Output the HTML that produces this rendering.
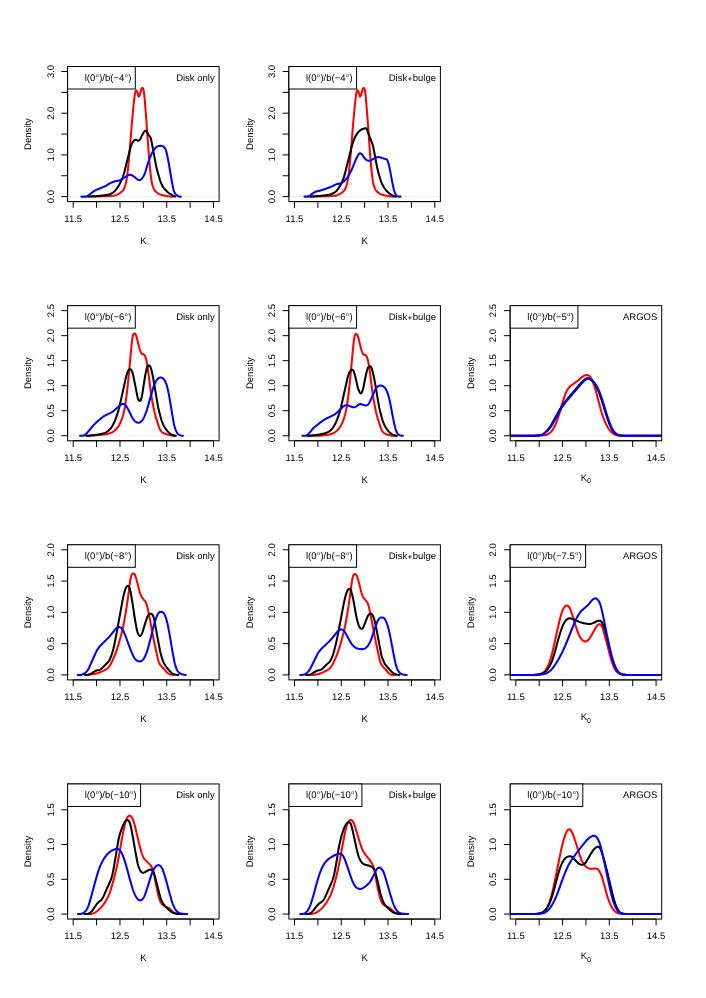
<!DOCTYPE html>
<html><head><meta charset="utf-8"><title>Density</title>
<style>html,body{margin:0;padding:0;background:#fff}svg{display:block;will-change:transform}text{font-family:"Liberation Sans",sans-serif;font-size:9.5px;fill:#000;text-rendering:geometricPrecision}</style></head>
<body>
<svg width="706" height="998" viewBox="0 0 706 998">
<rect width="706" height="998" fill="#fff"/>
<g>
<clipPath id="c00"><rect x="67.6" y="66.5" width="151.5" height="135.1"/></clipPath>
<line x1="67.6" y1="196.6" x2="219.1" y2="196.6" stroke="#d3d3d3" stroke-width="0.4"/>
<path clip-path="url(#c00)" d="M89.16 196.56 L89.66 196.56 L90.16 196.56 L90.66 196.56 L91.16 196.55 L91.66 196.55 L92.16 196.54 L92.66 196.54 L93.16 196.53 L93.66 196.52 L94.16 196.51 L94.66 196.5 L95.16 196.49 L95.66 196.48 L96.16 196.47 L96.66 196.45 L97.16 196.44 L97.66 196.43 L98.16 196.42 L98.66 196.4 L99.16 196.39 L99.66 196.37 L100.16 196.36 L100.66 196.35 L101.16 196.33 L101.66 196.32 L102.16 196.31 L102.66 196.29 L103.16 196.28 L103.66 196.27 L104.16 196.25 L104.66 196.24 L105.16 196.22 L105.66 196.2 L106.16 196.18 L106.66 196.16 L107.16 196.13 L107.66 196.11 L108.16 196.08 L108.66 196.05 L109.16 196.02 L109.66 195.98 L110.16 195.95 L110.66 195.91 L111.16 195.88 L111.66 195.84 L112.16 195.8 L112.66 195.75 L113.16 195.71 L113.66 195.66 L114.16 195.62 L114.66 195.57 L115.16 195.49 L115.66 195.34 L116.16 195.16 L116.66 194.93 L117.16 194.67 L117.66 194.4 L118.16 194.13 L118.66 193.86 L119.16 193.59 L119.66 193.28 L120.16 192.93 L120.66 192.53 L121.16 192.11 L121.66 191.65 L122.16 191.18 L122.66 190.68 L123.16 190.18 L123.66 189.46 L124.16 188.39 L124.66 187.07 L125.16 185.59 L125.66 183.92 L126.16 181.74 L126.66 179.02 L127.16 175.73 L127.66 171.82 L128.16 167.35 L128.66 162.36 L129.16 156.92 L129.66 151.07 L130.16 144.78 L130.66 138.26 L131.16 131.79 L131.66 125.66 L132.16 119.93 L132.66 114.48 L133.16 109.26 L133.66 104.23 L134.16 99.55 L134.66 95.65 L135.16 92.63 L135.66 90.74 L136.16 90.31 L136.66 90.87 L137.16 91.72 L137.66 93.04 L138.16 95.11 L138.66 96.66 L139.16 96.43 L139.66 95.07 L140.16 93.38 L140.66 91.7 L141.16 89.97 L141.66 88.38 L142.16 87.88 L142.66 88.17 L143.16 88.77 L143.66 90.45 L144.16 93.99 L144.66 99.07 L145.16 105.14 L145.66 111.54 L146.16 118.05 L146.66 124.73 L147.16 131.68 L147.66 138.8 L148.16 145.89 L148.66 152.79 L149.16 159.16 L149.66 164.85 L150.16 169.91 L150.66 174.37 L151.16 178.25 L151.66 181.51 L152.16 184.1 L152.66 186 L153.16 187.25 L153.66 188.37 L154.16 189.39 L154.66 190.28 L155.16 191.01 L155.66 191.54 L156.16 191.94 L156.66 192.35 L157.16 192.75 L157.66 193.13 L158.16 193.5 L158.66 193.82 L159.16 194.11 L159.66 194.33 L160.16 194.49 L160.66 194.63 L161.16 194.78 L161.66 194.92 L162.16 195.06 L162.66 195.19 L163.16 195.32 L163.66 195.45 L164.16 195.56 L164.66 195.67 L165.16 195.77 L165.66 195.85 L166.16 195.94 L166.66 196.02 L167.16 196.1 L167.66 196.18 L168.16 196.26 L168.66 196.34 L169.16 196.41 L169.66 196.49 L170.16 196.56 L170.66 196.6 L171.16 196.6 L171.66 196.6 L172.16 196.6 L172.66 196.6" fill="none" stroke="#ff0000" stroke-width="2.05" stroke-linejoin="round" stroke-linecap="round"/>
<path clip-path="url(#c00)" d="M87.04 196.56 L87.54 196.55 L88.04 196.54 L88.54 196.52 L89.04 196.51 L89.54 196.49 L90.04 196.47 L90.54 196.45 L91.04 196.43 L91.54 196.41 L92.04 196.39 L92.54 196.36 L93.04 196.33 L93.54 196.31 L94.04 196.28 L94.54 196.25 L95.04 196.22 L95.54 196.18 L96.04 196.15 L96.54 196.12 L97.04 196.08 L97.54 196.04 L98.04 195.99 L98.54 195.94 L99.04 195.9 L99.54 195.84 L100.04 195.79 L100.54 195.74 L101.04 195.68 L101.54 195.63 L102.04 195.57 L102.54 195.52 L103.04 195.46 L103.54 195.4 L104.04 195.34 L104.54 195.27 L105.04 195.2 L105.54 195.12 L106.04 195.03 L106.54 194.94 L107.04 194.84 L107.54 194.74 L108.04 194.64 L108.54 194.53 L109.04 194.43 L109.54 194.29 L110.04 194.12 L110.54 193.91 L111.04 193.67 L111.54 193.4 L112.04 193.1 L112.54 192.79 L113.04 192.45 L113.54 192.09 L114.04 191.68 L114.54 191.21 L115.04 190.69 L115.54 190.13 L116.04 189.52 L116.54 188.88 L117.04 188.17 L117.54 187.43 L118.04 186.65 L118.54 185.84 L119.04 185.01 L119.54 184.13 L120.04 183.2 L120.54 182.2 L121.04 181.14 L121.54 180.03 L122.04 178.86 L122.54 177.61 L123.04 176.25 L123.54 174.75 L124.04 173.08 L124.54 171.21 L125.04 169.21 L125.54 167.21 L126.04 165.21 L126.54 163.21 L127.04 161.21 L127.54 159.21 L128.04 157.21 L128.54 155.21 L129.04 153.21 L129.54 151.21 L130.04 149.21 L130.54 147.28 L131.04 145.69 L131.54 144.39 L132.04 143.33 L132.54 142.44 L133.04 141.68 L133.54 141.06 L134.04 140.55 L134.54 140.15 L135.04 139.86 L135.54 139.67 L136.04 139.63 L136.54 139.85 L137.04 140.24 L137.54 140.6 L138.04 140.75 L138.54 140.69 L139.04 140.47 L139.54 140.05 L140.04 139.39 L140.54 138.48 L141.04 137.47 L141.54 136.41 L142.04 135.4 L142.54 134.48 L143.04 133.6 L143.54 132.76 L144.04 131.96 L144.54 131.22 L145.04 130.8 L145.54 130.7 L146.04 130.9 L146.54 131.42 L147.04 132.15 L147.54 132.96 L148.04 133.84 L148.54 134.74 L149.04 135.55 L149.54 136.17 L150.04 136.84 L150.54 137.8 L151.04 139.31 L151.54 141.6 L152.04 144.27 L152.54 146.93 L153.04 149.6 L153.54 152.27 L154.04 154.93 L154.54 157.6 L155.04 160.27 L155.54 162.93 L156.04 165.53 L156.54 167.82 L157.04 169.85 L157.54 171.71 L158.04 173.47 L158.54 175.21 L159.04 176.96 L159.54 178.64 L160.04 180.24 L160.54 181.7 L161.04 182.99 L161.54 184.1 L162.04 185.09 L162.54 186.01 L163.04 186.86 L163.54 187.64 L164.04 188.35 L164.54 188.99 L165.04 189.57 L165.54 190.08 L166.04 190.55 L166.54 191.01 L167.04 191.46 L167.54 191.9 L168.04 192.33 L168.54 192.74 L169.04 193.12 L169.54 193.49 L170.04 193.82 L170.54 194.14 L171.04 194.46 L171.54 194.78 L172.04 195.09 L172.54 195.39 L173.04 195.68 L173.54 195.96 L174.04 196.23 L174.54 196.49 L175.04 196.6" fill="none" stroke="#000000" stroke-width="2.05" stroke-linejoin="round" stroke-linecap="round"/>
<path clip-path="url(#c00)" d="M81.37 196.6 L81.87 196.6 L82.37 196.6 L82.87 196.6 L83.37 196.6 L83.87 196.6 L84.37 196.6 L84.87 196.6 L85.37 196.6 L85.87 196.6 L86.37 196.6 L86.87 196.4 L87.37 196.11 L87.87 195.76 L88.37 195.39 L88.87 195.01 L89.37 194.63 L89.87 194.26 L90.37 193.88 L90.87 193.51 L91.37 193.12 L91.87 192.72 L92.37 192.32 L92.87 191.93 L93.37 191.55 L93.87 191.2 L94.37 190.87 L94.87 190.59 L95.37 190.33 L95.87 190.1 L96.37 189.88 L96.87 189.67 L97.37 189.47 L97.87 189.26 L98.37 189.06 L98.87 188.86 L99.37 188.64 L99.87 188.43 L100.37 188.22 L100.87 188.01 L101.37 187.8 L101.87 187.59 L102.37 187.37 L102.87 187.16 L103.37 186.95 L103.87 186.74 L104.37 186.52 L104.87 186.31 L105.37 186.07 L105.87 185.8 L106.37 185.52 L106.87 185.21 L107.37 184.9 L107.87 184.59 L108.37 184.27 L108.87 183.96 L109.37 183.66 L109.87 183.38 L110.37 183.12 L110.87 182.89 L111.37 182.66 L111.87 182.45 L112.37 182.25 L112.87 182.05 L113.37 181.86 L113.87 181.68 L114.37 181.51 L114.87 181.33 L115.37 181.2 L115.87 181.1 L116.37 181.02 L116.87 180.95 L117.37 180.89 L117.87 180.82 L118.37 180.73 L118.87 180.61 L119.37 180.44 L119.87 180.23 L120.37 179.96 L120.87 179.66 L121.37 179.36 L121.87 179.06 L122.37 178.76 L122.87 178.46 L123.37 178.16 L123.87 177.86 L124.37 177.56 L124.87 177.26 L125.37 176.96 L125.87 176.66 L126.37 176.36 L126.87 176.06 L127.37 175.76 L127.87 175.46 L128.37 175.17 L128.87 174.95 L129.37 174.81 L129.87 174.75 L130.37 174.77 L130.87 174.87 L131.37 175.04 L131.87 175.26 L132.37 175.53 L132.87 175.84 L133.37 176.17 L133.87 176.51 L134.37 176.89 L134.87 177.29 L135.37 177.71 L135.87 178.13 L136.37 178.55 L136.87 178.95 L137.37 179.32 L137.87 179.61 L138.37 179.8 L138.87 179.93 L139.37 179.98 L139.87 179.99 L140.37 179.88 L140.87 179.61 L141.37 179.2 L141.87 178.66 L142.37 178.02 L142.87 177.28 L143.37 176.42 L143.87 175.45 L144.37 174.35 L144.87 173.12 L145.37 171.74 L145.87 170.21 L146.37 168.56 L146.87 166.86 L147.37 165.15 L147.87 163.49 L148.37 161.95 L148.87 160.55 L149.37 159.21 L149.87 157.92 L150.37 156.67 L150.87 155.48 L151.37 154.35 L151.87 153.29 L152.37 152.31 L152.87 151.41 L153.37 150.58 L153.87 149.82 L154.37 149.15 L154.87 148.57 L155.37 148.05 L155.87 147.58 L156.37 147.16 L156.87 146.8 L157.37 146.5 L157.87 146.27 L158.37 146.11 L158.87 145.99 L159.37 145.91 L159.87 145.86 L160.37 145.85 L160.87 145.88 L161.37 145.95 L161.87 146.05 L162.37 146.16 L162.87 146.29 L163.37 146.52 L163.87 146.9 L164.37 147.42 L164.87 148.08 L165.37 148.93 L165.87 150.19 L166.37 151.84 L166.87 153.84 L167.37 156.08 L167.87 158.47 L168.37 161.03 L168.87 163.78 L169.37 166.71 L169.87 169.74 L170.37 172.79 L170.87 175.79 L171.37 178.69 L171.87 181.51 L172.37 184.2 L172.87 186.72 L173.37 189 L173.87 190.8 L174.37 192.15 L174.87 193.13 L175.37 193.84 L175.87 194.44 L176.37 194.98 L176.87 195.42 L177.37 195.76 L177.87 196 L178.37 196.23 L178.87 196.43 L179.37 196.6 L179.87 196.6 L180.37 196.6 L180.87 196.6" fill="none" stroke="#0000ff" stroke-width="2.05" stroke-linejoin="round" stroke-linecap="round"/>
<rect x="67.6" y="66.5" width="151.5" height="135.1" fill="none" stroke="#000" stroke-width="1"/>
<path d="M73.21 201.6H213.49M73.21 201.6v6.3M96.59 201.6v6.3M119.97 201.6v6.3M143.35 201.6v6.3M166.73 201.6v6.3M190.11 201.6v6.3M213.49 201.6v6.3M67.6 196.6V71.5M67.6 196.6h-6.3M67.6 175.75h-6.3M67.6 154.9h-6.3M67.6 134.05h-6.3M67.6 113.2h-6.3M67.6 92.35h-6.3M67.6 71.5h-6.3" fill="none" stroke="#000" stroke-width="1"/>
<text x="73.21" y="221.8" text-anchor="middle">11.5</text>
<text x="119.97" y="221.8" text-anchor="middle">12.5</text>
<text x="166.73" y="221.8" text-anchor="middle">13.5</text>
<text x="213.49" y="221.8" text-anchor="middle">14.5</text>
<text transform="translate(53.6 196.6) rotate(-90)" text-anchor="middle">0.0</text>
<text transform="translate(53.6 154.9) rotate(-90)" text-anchor="middle">1.0</text>
<text transform="translate(53.6 113.2) rotate(-90)" text-anchor="middle">2.0</text>
<text transform="translate(53.6 71.5) rotate(-90)" text-anchor="middle">3.0</text>
<text x="143.35" y="244" text-anchor="middle">K</text>
<text transform="translate(31.4 134.05) rotate(-90)" text-anchor="middle">Density</text>
<rect x="67.6" y="66.5" width="67.7" height="22.5" fill="#fff" stroke="#000" stroke-width="1"/>
<text x="84.7" y="81">l(0<tspan dy="-4.3" dx="0.5" font-size="5.2px">o</tspan><tspan dy="4.3" dx="0.5">)/b(−4</tspan><tspan dy="-4.3" dx="0.5" font-size="5.2px">o</tspan><tspan dy="4.3" dx="0.5">)</tspan></text>
<text x="214.7" y="80.8" text-anchor="end">Disk only</text>
</g>
<g>
<clipPath id="c01"><rect x="288.9" y="66.5" width="151.5" height="135.1"/></clipPath>
<line x1="288.9" y1="196.6" x2="440.4" y2="196.6" stroke="#d3d3d3" stroke-width="0.4"/>
<path clip-path="url(#c01)" d="M310.46 196.56 L310.96 196.56 L311.46 196.56 L311.96 196.56 L312.46 196.55 L312.96 196.55 L313.46 196.54 L313.96 196.54 L314.46 196.53 L314.96 196.52 L315.46 196.51 L315.96 196.5 L316.46 196.49 L316.96 196.48 L317.46 196.47 L317.96 196.45 L318.46 196.44 L318.96 196.43 L319.46 196.42 L319.96 196.4 L320.46 196.39 L320.96 196.37 L321.46 196.36 L321.96 196.35 L322.46 196.33 L322.96 196.32 L323.46 196.31 L323.96 196.29 L324.46 196.28 L324.96 196.27 L325.46 196.25 L325.96 196.24 L326.46 196.22 L326.96 196.2 L327.46 196.18 L327.96 196.16 L328.46 196.13 L328.96 196.11 L329.46 196.08 L329.96 196.05 L330.46 196.02 L330.96 195.98 L331.46 195.95 L331.96 195.91 L332.46 195.88 L332.96 195.84 L333.46 195.8 L333.96 195.75 L334.46 195.71 L334.96 195.66 L335.46 195.62 L335.96 195.57 L336.46 195.49 L336.96 195.34 L337.46 195.16 L337.96 194.93 L338.46 194.67 L338.96 194.4 L339.46 194.13 L339.96 193.86 L340.46 193.59 L340.96 193.28 L341.46 192.93 L341.96 192.53 L342.46 192.11 L342.96 191.65 L343.46 191.18 L343.96 190.68 L344.46 190.18 L344.96 189.46 L345.46 188.39 L345.96 187.07 L346.46 185.59 L346.96 183.92 L347.46 181.74 L347.96 179.02 L348.46 175.73 L348.96 171.82 L349.46 167.35 L349.96 162.36 L350.46 156.92 L350.96 151.07 L351.46 144.78 L351.96 138.26 L352.46 131.79 L352.96 125.66 L353.46 119.93 L353.96 114.48 L354.46 109.26 L354.96 104.23 L355.46 99.55 L355.96 95.65 L356.46 92.63 L356.96 90.74 L357.46 90.31 L357.96 90.87 L358.46 91.72 L358.96 93.04 L359.46 95.11 L359.96 96.66 L360.46 96.43 L360.96 95.07 L361.46 93.38 L361.96 91.7 L362.46 89.97 L362.96 88.38 L363.46 87.88 L363.96 88.17 L364.46 88.77 L364.96 90.45 L365.46 93.99 L365.96 99.07 L366.46 105.14 L366.96 111.54 L367.46 118.05 L367.96 124.73 L368.46 131.68 L368.96 138.8 L369.46 145.89 L369.96 152.79 L370.46 159.16 L370.96 164.85 L371.46 169.91 L371.96 174.37 L372.46 178.25 L372.96 181.51 L373.46 184.1 L373.96 186 L374.46 187.25 L374.96 188.37 L375.46 189.39 L375.96 190.28 L376.46 191.01 L376.96 191.54 L377.46 191.94 L377.96 192.35 L378.46 192.75 L378.96 193.13 L379.46 193.5 L379.96 193.82 L380.46 194.11 L380.96 194.33 L381.46 194.49 L381.96 194.63 L382.46 194.78 L382.96 194.92 L383.46 195.06 L383.96 195.19 L384.46 195.32 L384.96 195.45 L385.46 195.56 L385.96 195.67 L386.46 195.77 L386.96 195.85 L387.46 195.94 L387.96 196.02 L388.46 196.1 L388.96 196.18 L389.46 196.26 L389.96 196.34 L390.46 196.41 L390.96 196.49 L391.46 196.56 L391.96 196.6 L392.46 196.6 L392.96 196.6 L393.46 196.6 L393.96 196.6" fill="none" stroke="#ff0000" stroke-width="2.05" stroke-linejoin="round" stroke-linecap="round"/>
<path clip-path="url(#c01)" d="M308.04 196.56 L308.54 196.55 L309.04 196.54 L309.54 196.52 L310.04 196.51 L310.54 196.49 L311.04 196.47 L311.54 196.45 L312.04 196.43 L312.54 196.41 L313.04 196.39 L313.54 196.36 L314.04 196.33 L314.54 196.31 L315.04 196.28 L315.54 196.25 L316.04 196.22 L316.54 196.18 L317.04 196.15 L317.54 196.12 L318.04 196.08 L318.54 196.04 L319.04 195.99 L319.54 195.95 L320.04 195.9 L320.54 195.85 L321.04 195.79 L321.54 195.74 L322.04 195.69 L322.54 195.63 L323.04 195.57 L323.54 195.52 L324.04 195.46 L324.54 195.4 L325.04 195.34 L325.54 195.27 L326.04 195.19 L326.54 195.11 L327.04 195.03 L327.54 194.93 L328.04 194.84 L328.54 194.74 L329.04 194.64 L329.54 194.53 L330.04 194.43 L330.54 194.3 L331.04 194.14 L331.54 193.95 L332.04 193.73 L332.54 193.5 L333.04 193.24 L333.54 192.98 L334.04 192.71 L334.54 192.42 L335.04 192.09 L335.54 191.7 L336.04 191.26 L336.54 190.77 L337.04 190.23 L337.54 189.62 L338.04 188.93 L338.54 188.18 L339.04 187.38 L339.54 186.55 L340.04 185.72 L340.54 184.86 L341.04 183.95 L341.54 182.97 L342.04 181.92 L342.54 180.77 L343.04 179.5 L343.54 178.11 L344.04 176.58 L344.54 174.92 L345.04 173.13 L345.54 171.21 L346.04 169.21 L346.54 167.21 L347.04 165.21 L347.54 163.21 L348.04 161.21 L348.54 159.21 L349.04 157.21 L349.54 155.21 L350.04 153.21 L350.54 151.21 L351.04 149.21 L351.54 147.24 L352.04 145.45 L352.54 143.8 L353.04 142.27 L353.54 140.83 L354.04 139.5 L354.54 138.3 L355.04 137.23 L355.54 136.27 L356.04 135.38 L356.54 134.55 L357.04 133.77 L357.54 133.06 L358.04 132.43 L358.54 131.88 L359.04 131.36 L359.54 130.88 L360.04 130.44 L360.54 130.07 L361.04 129.76 L361.54 129.53 L362.04 129.31 L362.54 129.11 L363.04 128.92 L363.54 128.73 L364.04 128.55 L364.54 128.39 L365.04 128.26 L365.54 128.17 L366.04 128.21 L366.54 128.73 L367.04 129.79 L367.54 131.02 L368.04 132.3 L368.54 133.63 L369.04 134.96 L369.54 136.29 L370.04 137.63 L370.54 138.96 L371.04 140.29 L371.54 141.63 L372.04 142.96 L372.54 144.3 L373.04 146.08 L373.54 148.42 L374.04 151.05 L374.54 153.7 L375.04 156.31 L375.54 159.04 L376.04 161.79 L376.54 164.42 L377.04 166.84 L377.54 169.08 L378.04 171.15 L378.54 173.09 L379.04 174.91 L379.54 176.63 L380.04 178.27 L380.54 179.83 L381.04 181.28 L381.54 182.6 L382.04 183.77 L382.54 184.79 L383.04 185.72 L383.54 186.61 L384.04 187.44 L384.54 188.23 L385.04 188.96 L385.54 189.63 L386.04 190.24 L386.54 190.78 L387.04 191.28 L387.54 191.76 L388.04 192.23 L388.54 192.67 L389.04 193.1 L389.54 193.5 L390.04 193.87 L390.54 194.21 L391.04 194.52 L391.54 194.81 L392.04 195.08 L392.54 195.35 L393.04 195.6 L393.54 195.84 L394.04 196.06 L394.54 196.27 L395.04 196.46 L395.54 196.6 L396.04 196.6" fill="none" stroke="#000000" stroke-width="2.05" stroke-linejoin="round" stroke-linecap="round"/>
<path clip-path="url(#c01)" d="M304.5 196.6 L305 196.6 L305.5 196.6 L306 196.6 L306.5 196.6 L307 196.6 L307.5 196.6 L308 196.54 L308.5 196.35 L309 196.12 L309.5 195.83 L310 195.48 L310.5 195.1 L311 194.7 L311.5 194.3 L312 193.93 L312.5 193.59 L313 193.25 L313.5 192.91 L314 192.58 L314.5 192.27 L315 191.98 L315.5 191.74 L316 191.54 L316.5 191.39 L317 191.26 L317.5 191.16 L318 191.07 L318.5 190.98 L319 190.88 L319.5 190.77 L320 190.64 L320.5 190.48 L321 190.32 L321.5 190.17 L322 190.01 L322.5 189.85 L323 189.69 L323.5 189.52 L324 189.36 L324.5 189.19 L325 189.03 L325.5 188.86 L326 188.68 L326.5 188.51 L327 188.33 L327.5 188.14 L328 187.96 L328.5 187.77 L329 187.58 L329.5 187.39 L330 187.2 L330.5 187 L331 186.81 L331.5 186.61 L332 186.39 L332.5 186.16 L333 185.9 L333.5 185.64 L334 185.37 L334.5 185.1 L335 184.84 L335.5 184.6 L336 184.38 L336.5 184.21 L337 184.07 L337.5 183.96 L338 183.87 L338.5 183.79 L339 183.71 L339.5 183.63 L340 183.53 L340.5 183.4 L341 183.23 L341.5 183.03 L342 182.76 L342.5 182.44 L343 182.07 L343.5 181.66 L344 181.2 L344.5 180.71 L345 180.19 L345.5 179.65 L346 179.08 L346.5 178.47 L347 177.83 L347.5 177.14 L348 176.41 L348.5 175.63 L349 174.81 L349.5 173.94 L350 173.03 L350.5 172.08 L351 171.09 L351.5 170.06 L352 168.99 L352.5 167.88 L353 166.73 L353.5 165.49 L354 164.21 L354.5 162.91 L355 161.64 L355.5 160.42 L356 159.27 L356.5 158.19 L357 157.18 L357.5 156.22 L358 155.33 L358.5 154.5 L359 153.88 L359.5 153.49 L360 153.32 L360.5 153.37 L361 153.6 L361.5 153.95 L362 154.44 L362.5 155.05 L363 155.79 L363.5 156.59 L364 157.38 L364.5 158.08 L365 158.65 L365.5 159.14 L366 159.58 L366.5 159.94 L367 160.23 L367.5 160.43 L368 160.57 L368.5 160.67 L369 160.71 L369.5 160.69 L370 160.58 L370.5 160.38 L371 160.14 L371.5 159.87 L372 159.6 L372.5 159.32 L373 159.05 L373.5 158.8 L374 158.56 L374.5 158.32 L375 158.09 L375.5 157.86 L376 157.65 L376.5 157.46 L377 157.3 L377.5 157.17 L378 157.1 L378.5 157.09 L379 157.13 L379.5 157.21 L380 157.32 L380.5 157.46 L381 157.61 L381.5 157.78 L382 157.95 L382.5 158.13 L383 158.31 L383.5 158.49 L384 158.66 L384.5 158.81 L385 158.94 L385.5 159.06 L386 159.2 L386.5 159.36 L387 159.82 L387.5 160.67 L388 161.92 L388.5 163.56 L389 165.51 L389.5 167.71 L390 170.1 L390.5 172.64 L391 175.33 L391.5 178.06 L392 180.75 L392.5 183.3 L393 185.73 L393.5 187.98 L394 190.02 L394.5 191.79 L395 193.16 L395.5 194.15 L396 194.85 L396.5 195.37 L397 195.79 L397.5 196.17 L398 196.48 L398.5 196.6 L399 196.6 L399.5 196.6 L400 196.6 L400.5 196.6" fill="none" stroke="#0000ff" stroke-width="2.05" stroke-linejoin="round" stroke-linecap="round"/>
<rect x="288.9" y="66.5" width="151.5" height="135.1" fill="none" stroke="#000" stroke-width="1"/>
<path d="M294.51 201.6H434.79M294.51 201.6v6.3M317.89 201.6v6.3M341.27 201.6v6.3M364.65 201.6v6.3M388.03 201.6v6.3M411.41 201.6v6.3M434.79 201.6v6.3M288.9 196.6V71.5M288.9 196.6h-6.3M288.9 175.75h-6.3M288.9 154.9h-6.3M288.9 134.05h-6.3M288.9 113.2h-6.3M288.9 92.35h-6.3M288.9 71.5h-6.3" fill="none" stroke="#000" stroke-width="1"/>
<text x="294.51" y="221.8" text-anchor="middle">11.5</text>
<text x="341.27" y="221.8" text-anchor="middle">12.5</text>
<text x="388.03" y="221.8" text-anchor="middle">13.5</text>
<text x="434.79" y="221.8" text-anchor="middle">14.5</text>
<text transform="translate(274.9 196.6) rotate(-90)" text-anchor="middle">0.0</text>
<text transform="translate(274.9 154.9) rotate(-90)" text-anchor="middle">1.0</text>
<text transform="translate(274.9 113.2) rotate(-90)" text-anchor="middle">2.0</text>
<text transform="translate(274.9 71.5) rotate(-90)" text-anchor="middle">3.0</text>
<text x="364.65" y="244" text-anchor="middle">K</text>
<text transform="translate(252.7 134.05) rotate(-90)" text-anchor="middle">Density</text>
<rect x="288.9" y="66.5" width="67.7" height="22.5" fill="#fff" stroke="#000" stroke-width="1"/>
<text x="306" y="81">l(0<tspan dy="-4.3" dx="0.5" font-size="5.2px">o</tspan><tspan dy="4.3" dx="0.5">)/b(−4</tspan><tspan dy="-4.3" dx="0.5" font-size="5.2px">o</tspan><tspan dy="4.3" dx="0.5">)</tspan></text>
<text x="436" y="80.8" text-anchor="end">Disk<tspan dx="0.9" font-size="6.4px" stroke="#000" stroke-width="0.3">+</tspan><tspan dx="0.9">bulge</tspan></text>
</g>
<g>
<clipPath id="c10"><rect x="67.6" y="305.65" width="151.5" height="135.1"/></clipPath>
<line x1="67.6" y1="435.75" x2="219.1" y2="435.75" stroke="#d3d3d3" stroke-width="0.4"/>
<path clip-path="url(#c10)" d="M86.33 435.75 L86.83 435.75 L87.33 435.75 L87.83 435.75 L88.33 435.75 L88.83 435.75 L89.33 435.72 L89.83 435.7 L90.33 435.67 L90.83 435.64 L91.33 435.61 L91.83 435.58 L92.33 435.55 L92.83 435.51 L93.33 435.48 L93.83 435.45 L94.33 435.41 L94.83 435.38 L95.33 435.34 L95.83 435.31 L96.33 435.27 L96.83 435.23 L97.33 435.19 L97.83 435.15 L98.33 435.1 L98.83 435.05 L99.33 435 L99.83 434.95 L100.33 434.89 L100.83 434.83 L101.33 434.77 L101.83 434.71 L102.33 434.65 L102.83 434.59 L103.33 434.52 L103.83 434.46 L104.33 434.39 L104.83 434.32 L105.33 434.26 L105.83 434.19 L106.33 434.12 L106.83 434.04 L107.33 433.94 L107.83 433.82 L108.33 433.68 L108.83 433.54 L109.33 433.38 L109.83 433.21 L110.33 433.03 L110.83 432.84 L111.33 432.64 L111.83 432.44 L112.33 432.21 L112.83 431.92 L113.33 431.58 L113.83 431.2 L114.33 430.79 L114.83 430.35 L115.33 429.89 L115.83 429.42 L116.33 428.93 L116.83 428.38 L117.33 427.76 L117.83 427.07 L118.33 426.33 L118.83 425.55 L119.33 424.72 L119.83 423.84 L120.33 422.81 L120.83 421.63 L121.33 420.33 L121.83 418.94 L122.33 417.5 L122.83 415.95 L123.33 414.15 L123.83 412.1 L124.33 409.83 L124.83 407.33 L125.33 404.44 L125.83 401.16 L126.33 397.47 L126.83 393.37 L127.33 389.03 L127.83 384.47 L128.33 379.66 L128.83 374.58 L129.33 369.26 L129.83 363.83 L130.33 358.4 L130.83 353.08 L131.33 347.93 L131.83 343.01 L132.33 338.61 L132.83 335.82 L133.33 334.34 L133.83 333.57 L134.33 333.28 L134.83 333.4 L135.33 333.79 L135.83 334.76 L136.33 336.11 L136.83 337.76 L137.33 339.7 L137.83 341.82 L138.33 343.97 L138.83 345.97 L139.33 347.81 L139.83 349.51 L140.33 350.99 L140.83 352.2 L141.33 353.07 L141.83 353.7 L142.33 354.16 L142.83 354.34 L143.33 354.34 L143.83 354.45 L144.33 354.89 L144.83 355.68 L145.33 356.78 L145.83 358.24 L146.33 360.17 L146.83 362.63 L147.33 365.58 L147.83 368.81 L148.33 372.3 L148.83 376 L149.33 380.03 L149.83 384.23 L150.33 388.31 L150.83 392.02 L151.33 395.35 L151.83 398.44 L152.33 401.32 L152.83 404.02 L153.33 406.61 L153.83 409.13 L154.33 411.48 L154.83 413.58 L155.33 415.39 L155.83 417.11 L156.33 418.76 L156.83 420.38 L157.33 421.96 L157.83 423.52 L158.33 425.05 L158.83 426.52 L159.33 427.92 L159.83 429.15 L160.33 430.15 L160.83 430.95 L161.33 431.53 L161.83 431.97 L162.33 432.37 L162.83 432.72 L163.33 433.03 L163.83 433.28 L164.33 433.47 L164.83 433.64 L165.33 433.82 L165.83 433.99 L166.33 434.15 L166.83 434.31 L167.33 434.45 L167.83 434.58 L168.33 434.71 L168.83 434.83 L169.33 434.96 L169.83 435.08 L170.33 435.2 L170.83 435.31 L171.33 435.42 L171.83 435.52 L172.33 435.62 L172.83 435.71 L173.33 435.75 L173.83 435.75 L174.33 435.75 L174.83 435.75" fill="none" stroke="#ff0000" stroke-width="2.05" stroke-linejoin="round" stroke-linecap="round"/>
<path clip-path="url(#c10)" d="M86.33 435.75 L86.83 435.75 L87.33 435.75 L87.83 435.75 L88.33 435.72 L88.83 435.68 L89.33 435.63 L89.83 435.59 L90.33 435.54 L90.83 435.49 L91.33 435.44 L91.83 435.38 L92.33 435.33 L92.83 435.27 L93.33 435.21 L93.83 435.15 L94.33 435.09 L94.83 435.03 L95.33 434.97 L95.83 434.9 L96.33 434.84 L96.83 434.77 L97.33 434.7 L97.83 434.62 L98.33 434.54 L98.83 434.44 L99.33 434.35 L99.83 434.25 L100.33 434.14 L100.83 434.03 L101.33 433.92 L101.83 433.8 L102.33 433.68 L102.83 433.56 L103.33 433.44 L103.83 433.29 L104.33 433.11 L104.83 432.89 L105.33 432.65 L105.83 432.38 L106.33 432.09 L106.83 431.78 L107.33 431.47 L107.83 431.14 L108.33 430.76 L108.83 430.33 L109.33 429.85 L109.83 429.32 L110.33 428.75 L110.83 428.14 L111.33 427.49 L111.83 426.75 L112.33 425.92 L112.83 425.03 L113.33 424.07 L113.83 423.06 L114.33 422 L114.83 420.87 L115.33 419.67 L115.83 418.39 L116.33 417.03 L116.83 415.59 L117.33 414.11 L117.83 412.55 L118.33 410.88 L118.83 409.07 L119.33 407.06 L119.83 404.85 L120.33 402.6 L120.83 400.35 L121.33 398.1 L121.83 395.85 L122.33 393.6 L122.83 391.35 L123.33 389.1 L123.83 386.85 L124.33 384.6 L124.83 382.35 L125.33 380.1 L125.83 377.98 L126.33 376.05 L126.83 374.32 L127.33 372.75 L127.83 371.47 L128.33 370.58 L128.83 369.96 L129.33 369.52 L129.83 369.27 L130.33 369.24 L130.83 369.4 L131.33 369.87 L131.83 370.83 L132.33 372.28 L132.83 374.03 L133.33 376.08 L133.83 378.44 L134.33 380.94 L134.83 383.44 L135.33 385.94 L135.83 388.44 L136.33 390.94 L136.83 393.44 L137.33 395.94 L137.83 398.3 L138.33 399.68 L138.83 400.37 L139.33 400.81 L139.83 400.87 L140.33 400.61 L140.83 399.86 L141.33 398.43 L141.83 396.38 L142.33 393.83 L142.83 390.87 L143.33 387.54 L143.83 384.07 L144.33 380.77 L144.83 377.79 L145.33 374.99 L145.83 372.39 L146.33 370.03 L146.83 368.13 L147.33 366.77 L147.83 365.92 L148.33 365.51 L148.83 365.43 L149.33 365.59 L149.83 366.01 L150.33 366.82 L150.83 368.03 L151.33 369.6 L151.83 371.56 L152.33 373.91 L152.83 376.43 L153.33 379.03 L153.83 381.76 L154.33 384.64 L154.83 387.62 L155.33 390.64 L155.83 393.65 L156.33 396.65 L156.83 399.6 L157.33 402.51 L157.83 405.31 L158.33 407.9 L158.83 410.12 L159.33 412.14 L159.83 414.12 L160.33 416.07 L160.83 417.92 L161.33 419.61 L161.83 421.1 L162.33 422.45 L162.83 423.68 L163.33 424.79 L163.83 425.79 L164.33 426.7 L164.83 427.53 L165.33 428.28 L165.83 429 L166.33 429.7 L166.83 430.37 L167.33 431 L167.83 431.58 L168.33 432.11 L168.83 432.57 L169.33 432.98 L169.83 433.35 L170.33 433.7 L170.83 434.02 L171.33 434.32 L171.83 434.59 L172.33 434.83 L172.83 435.03 L173.33 435.21 L173.83 435.37 L174.33 435.51 L174.83 435.64 L175.33 435.73 L175.83 435.75" fill="none" stroke="#000000" stroke-width="2.05" stroke-linejoin="round" stroke-linecap="round"/>
<path clip-path="url(#c10)" d="M79.96 435.75 L80.46 435.75 L80.96 435.75 L81.46 435.75 L81.96 435.75 L82.46 435.75 L82.96 435.75 L83.46 435.73 L83.96 435.5 L84.46 435.2 L84.96 434.82 L85.46 434.38 L85.96 433.93 L86.46 433.45 L86.96 432.95 L87.46 432.43 L87.96 431.88 L88.46 431.31 L88.96 430.72 L89.46 430.11 L89.96 429.5 L90.46 428.89 L90.96 428.28 L91.46 427.69 L91.96 427.11 L92.46 426.54 L92.96 425.98 L93.46 425.43 L93.96 424.88 L94.46 424.35 L94.96 423.82 L95.46 423.31 L95.96 422.81 L96.46 422.33 L96.96 421.86 L97.46 421.4 L97.96 420.96 L98.46 420.53 L98.96 420.11 L99.46 419.69 L99.96 419.28 L100.46 418.88 L100.96 418.48 L101.46 418.07 L101.96 417.68 L102.46 417.29 L102.96 416.92 L103.46 416.56 L103.96 416.22 L104.46 415.9 L104.96 415.61 L105.46 415.34 L105.96 415.08 L106.46 414.84 L106.96 414.6 L107.46 414.37 L107.96 414.13 L108.46 413.88 L108.96 413.63 L109.46 413.37 L109.96 413.12 L110.46 412.88 L110.96 412.63 L111.46 412.37 L111.96 412.09 L112.46 411.77 L112.96 411.42 L113.46 411.02 L113.96 410.61 L114.46 410.18 L114.96 409.75 L115.46 409.31 L115.96 408.86 L116.46 408.42 L116.96 407.98 L117.46 407.55 L117.96 407.12 L118.46 406.69 L118.96 406.26 L119.46 405.84 L119.96 405.42 L120.46 405 L120.96 404.65 L121.46 404.38 L121.96 404.16 L122.46 403.97 L122.96 403.87 L123.46 403.9 L123.96 404.04 L124.46 404.27 L124.96 404.61 L125.46 405.1 L125.96 405.76 L126.46 406.56 L126.96 407.39 L127.46 408.26 L127.96 409.16 L128.46 410.08 L128.96 411.03 L129.46 412.02 L129.96 413.03 L130.46 414.06 L130.96 415.07 L131.46 416.06 L131.96 416.99 L132.46 417.86 L132.96 418.66 L133.46 419.39 L133.96 420.05 L134.46 420.65 L134.96 421.17 L135.46 421.6 L135.96 421.94 L136.46 422.21 L136.96 422.41 L137.46 422.57 L137.96 422.65 L138.46 422.68 L138.96 422.63 L139.46 422.53 L139.96 422.34 L140.46 422.06 L140.96 421.69 L141.46 421.23 L141.96 420.68 L142.46 420.03 L142.96 419.27 L143.46 418.39 L143.96 417.41 L144.46 416.32 L144.96 415.16 L145.46 413.93 L145.96 412.61 L146.46 411.18 L146.96 409.6 L147.46 407.88 L147.96 406.13 L148.46 404.38 L148.96 402.63 L149.46 400.88 L149.96 399.13 L150.46 397.38 L150.96 395.63 L151.46 393.88 L151.96 392.13 L152.46 390.38 L152.96 388.63 L153.46 387.02 L153.96 385.61 L154.46 384.37 L154.96 383.26 L155.46 382.26 L155.96 381.34 L156.46 380.52 L156.96 379.8 L157.46 379.19 L157.96 378.69 L158.46 378.27 L158.96 377.95 L159.46 377.71 L159.96 377.56 L160.46 377.49 L160.96 377.51 L161.46 377.62 L161.96 377.81 L162.46 378.07 L162.96 378.4 L163.46 378.81 L163.96 379.37 L164.46 380.1 L164.96 380.95 L165.46 381.92 L165.96 383.05 L166.46 384.41 L166.96 386.04 L167.46 387.96 L167.96 390.14 L168.46 392.5 L168.96 395.05 L169.46 397.81 L169.96 400.74 L170.46 403.75 L170.96 406.78 L171.46 409.79 L171.96 412.75 L172.46 415.67 L172.96 418.54 L173.46 421.32 L173.96 423.99 L174.46 426.22 L174.96 427.96 L175.46 429.35 L175.96 430.53 L176.46 431.62 L176.96 432.61 L177.46 433.43 L177.96 434.02 L178.46 434.37 L178.96 434.69 L179.46 434.97 L179.96 435.21 L180.46 435.41 L180.96 435.56 L181.46 435.69 L181.96 435.75 L182.46 435.75 L182.96 435.75" fill="none" stroke="#0000ff" stroke-width="2.05" stroke-linejoin="round" stroke-linecap="round"/>
<rect x="67.6" y="305.65" width="151.5" height="135.1" fill="none" stroke="#000" stroke-width="1"/>
<path d="M73.21 440.75H213.49M73.21 440.75v6.3M96.59 440.75v6.3M119.97 440.75v6.3M143.35 440.75v6.3M166.73 440.75v6.3M190.11 440.75v6.3M213.49 440.75v6.3M67.6 435.75V310.65M67.6 435.75h-6.3M67.6 410.73h-6.3M67.6 385.71h-6.3M67.6 360.69h-6.3M67.6 335.67h-6.3M67.6 310.65h-6.3" fill="none" stroke="#000" stroke-width="1"/>
<text x="73.21" y="460.95" text-anchor="middle">11.5</text>
<text x="119.97" y="460.95" text-anchor="middle">12.5</text>
<text x="166.73" y="460.95" text-anchor="middle">13.5</text>
<text x="213.49" y="460.95" text-anchor="middle">14.5</text>
<text transform="translate(53.6 435.75) rotate(-90)" text-anchor="middle">0.0</text>
<text transform="translate(53.6 410.73) rotate(-90)" text-anchor="middle">0.5</text>
<text transform="translate(53.6 385.71) rotate(-90)" text-anchor="middle">1.0</text>
<text transform="translate(53.6 360.69) rotate(-90)" text-anchor="middle">1.5</text>
<text transform="translate(53.6 335.67) rotate(-90)" text-anchor="middle">2.0</text>
<text transform="translate(53.6 310.65) rotate(-90)" text-anchor="middle">2.5</text>
<text x="143.35" y="483.15" text-anchor="middle">K</text>
<text transform="translate(31.4 373.2) rotate(-90)" text-anchor="middle">Density</text>
<rect x="67.6" y="305.65" width="67.7" height="22.5" fill="#fff" stroke="#000" stroke-width="1"/>
<text x="84.7" y="320.15">l(0<tspan dy="-4.3" dx="0.5" font-size="5.2px">o</tspan><tspan dy="4.3" dx="0.5">)/b(−6</tspan><tspan dy="-4.3" dx="0.5" font-size="5.2px">o</tspan><tspan dy="4.3" dx="0.5">)</tspan></text>
<text x="214.7" y="319.95" text-anchor="end">Disk only</text>
</g>
<g>
<clipPath id="c11"><rect x="288.9" y="305.65" width="151.5" height="135.1"/></clipPath>
<line x1="288.9" y1="435.75" x2="440.4" y2="435.75" stroke="#d3d3d3" stroke-width="0.4"/>
<path clip-path="url(#c11)" d="M308.03 435.75 L308.53 435.75 L309.03 435.75 L309.53 435.75 L310.03 435.75 L310.53 435.75 L311.03 435.75 L311.53 435.75 L312.03 435.75 L312.53 435.75 L313.03 435.75 L313.53 435.75 L314.03 435.75 L314.53 435.75 L315.03 435.75 L315.53 435.75 L316.03 435.75 L316.53 435.75 L317.03 435.75 L317.53 435.75 L318.03 435.75 L318.53 435.75 L319.03 435.75 L319.53 435.75 L320.03 435.7 L320.53 435.65 L321.03 435.6 L321.53 435.55 L322.03 435.49 L322.53 435.43 L323.03 435.37 L323.53 435.31 L324.03 435.25 L324.53 435.19 L325.03 435.12 L325.53 435.06 L326.03 434.99 L326.53 434.92 L327.03 434.86 L327.53 434.79 L328.03 434.72 L328.53 434.64 L329.03 434.54 L329.53 434.42 L330.03 434.28 L330.53 434.14 L331.03 433.98 L331.53 433.81 L332.03 433.63 L332.53 433.44 L333.03 433.24 L333.53 433.04 L334.03 432.81 L334.53 432.52 L335.03 432.18 L335.53 431.8 L336.03 431.39 L336.53 430.95 L337.03 430.49 L337.53 430.02 L338.03 429.53 L338.53 428.98 L339.03 428.36 L339.53 427.67 L340.03 426.93 L340.53 426.15 L341.03 425.32 L341.53 424.44 L342.03 423.41 L342.53 422.23 L343.03 420.93 L343.53 419.54 L344.03 418.1 L344.53 416.55 L345.03 414.75 L345.53 412.7 L346.03 410.43 L346.53 407.93 L347.03 405.04 L347.53 401.76 L348.03 398.07 L348.53 393.97 L349.03 389.63 L349.53 385.07 L350.03 380.26 L350.53 375.18 L351.03 369.86 L351.53 364.43 L352.03 359 L352.53 353.68 L353.03 348.53 L353.53 343.61 L354.03 339.21 L354.53 336.42 L355.03 334.94 L355.53 334.17 L356.03 333.88 L356.53 334 L357.03 334.39 L357.53 335.36 L358.03 336.71 L358.53 338.36 L359.03 340.3 L359.53 342.42 L360.03 344.57 L360.53 346.57 L361.03 348.41 L361.53 350.11 L362.03 351.59 L362.53 352.8 L363.03 353.67 L363.53 354.3 L364.03 354.76 L364.53 354.94 L365.03 354.94 L365.53 355.05 L366.03 355.49 L366.53 356.28 L367.03 357.38 L367.53 358.84 L368.03 360.77 L368.53 363.23 L369.03 366.18 L369.53 369.41 L370.03 372.9 L370.53 376.6 L371.03 380.63 L371.53 384.83 L372.03 388.91 L372.53 392.62 L373.03 395.95 L373.53 399.04 L374.03 401.92 L374.53 404.62 L375.03 407.21 L375.53 409.73 L376.03 412.08 L376.53 414.18 L377.03 415.99 L377.53 417.71 L378.03 419.36 L378.53 420.98 L379.03 422.56 L379.53 424.12 L380.03 425.65 L380.53 427.12 L381.03 428.52 L381.53 429.75 L382.03 430.75 L382.53 431.55 L383.03 432.13 L383.53 432.57 L384.03 432.97 L384.53 433.32 L385.03 433.63 L385.53 433.88 L386.03 434.07 L386.53 434.24 L387.03 434.42 L387.53 434.59 L388.03 434.75 L388.53 434.91 L389.03 435.05 L389.53 435.18 L390.03 435.31 L390.53 435.43 L391.03 435.56 L391.53 435.68 L392.03 435.75 L392.53 435.75 L393.03 435.75 L393.53 435.75 L394.03 435.75 L394.53 435.75 L395.03 435.75 L395.53 435.75 L396.03 435.75 L396.53 435.75" fill="none" stroke="#ff0000" stroke-width="2.05" stroke-linejoin="round" stroke-linecap="round"/>
<path clip-path="url(#c11)" d="M307.33 435.75 L307.83 435.75 L308.33 435.75 L308.83 435.75 L309.33 435.72 L309.83 435.68 L310.33 435.64 L310.83 435.59 L311.33 435.54 L311.83 435.5 L312.33 435.44 L312.83 435.39 L313.33 435.33 L313.83 435.28 L314.33 435.22 L314.83 435.16 L315.33 435.1 L315.83 435.03 L316.33 434.97 L316.83 434.91 L317.33 434.84 L317.83 434.77 L318.33 434.69 L318.83 434.61 L319.33 434.52 L319.83 434.43 L320.33 434.33 L320.83 434.23 L321.33 434.12 L321.83 434.01 L322.33 433.9 L322.83 433.78 L323.33 433.67 L323.83 433.55 L324.33 433.44 L324.83 433.31 L325.33 433.15 L325.83 432.98 L326.33 432.78 L326.83 432.57 L327.33 432.34 L327.83 432.09 L328.33 431.83 L328.83 431.56 L329.33 431.29 L329.83 430.96 L330.33 430.56 L330.83 430.1 L331.33 429.59 L331.83 429.02 L332.33 428.41 L332.83 427.76 L333.33 427.06 L333.83 426.27 L334.33 425.4 L334.83 424.47 L335.33 423.48 L335.83 422.45 L336.33 421.35 L336.83 420.18 L337.33 418.93 L337.83 417.6 L338.33 416.2 L338.83 414.73 L339.33 413.21 L339.83 411.59 L340.33 409.84 L340.83 407.92 L341.33 405.79 L341.83 403.54 L342.33 401.29 L342.83 399.04 L343.33 396.79 L343.83 394.54 L344.33 392.29 L344.83 390.04 L345.33 387.79 L345.83 385.54 L346.33 383.29 L346.83 381.04 L347.33 378.87 L347.83 377.01 L348.33 375.41 L348.83 373.99 L349.33 372.71 L349.83 371.67 L350.33 370.86 L350.83 370.25 L351.33 369.83 L351.83 369.66 L352.33 369.69 L352.83 369.89 L353.33 370.42 L353.83 371.51 L354.33 373.08 L354.83 374.89 L355.33 376.85 L355.83 378.92 L356.33 381.13 L356.83 383.38 L357.33 385.55 L357.83 387.51 L358.33 389.14 L358.83 390.51 L359.33 391.69 L359.83 392.59 L360.33 393.13 L360.83 393.38 L361.33 393.19 L361.83 392.43 L362.33 391.19 L362.83 389.63 L363.33 387.72 L363.83 385.42 L364.33 382.9 L364.83 380.31 L365.33 377.83 L365.83 375.51 L366.33 373.29 L366.83 371.23 L367.33 369.41 L367.83 368.11 L368.33 367.27 L368.83 366.68 L369.33 366.31 L369.83 366.16 L370.33 366.25 L370.83 366.67 L371.33 367.52 L371.83 368.8 L372.33 370.43 L372.83 372.36 L373.33 374.57 L373.83 376.87 L374.33 379.28 L374.83 381.84 L375.33 384.64 L375.83 387.6 L376.33 390.62 L376.83 393.65 L377.33 396.65 L377.83 399.59 L378.33 402.51 L378.83 405.31 L379.33 407.9 L379.83 410.12 L380.33 412.14 L380.83 414.12 L381.33 416.07 L381.83 417.92 L382.33 419.61 L382.83 421.1 L383.33 422.45 L383.83 423.68 L384.33 424.79 L384.83 425.79 L385.33 426.7 L385.83 427.53 L386.33 428.28 L386.83 429 L387.33 429.7 L387.83 430.37 L388.33 431 L388.83 431.58 L389.33 432.11 L389.83 432.57 L390.33 432.98 L390.83 433.35 L391.33 433.7 L391.83 434.02 L392.33 434.32 L392.83 434.59 L393.33 434.83 L393.83 435.03 L394.33 435.21 L394.83 435.37 L395.33 435.51 L395.83 435.64 L396.33 435.73 L396.83 435.75" fill="none" stroke="#000000" stroke-width="2.05" stroke-linejoin="round" stroke-linecap="round"/>
<path clip-path="url(#c11)" d="M302.37 435.75 L302.87 435.75 L303.37 435.75 L303.87 435.75 L304.37 435.75 L304.87 435.75 L305.37 435.75 L305.87 435.73 L306.37 435.5 L306.87 435.2 L307.37 434.82 L307.87 434.38 L308.37 433.91 L308.87 433.41 L309.37 432.89 L309.87 432.35 L310.37 431.78 L310.87 431.16 L311.37 430.51 L311.87 429.85 L312.37 429.21 L312.87 428.61 L313.37 428.08 L313.87 427.63 L314.37 427.21 L314.87 426.8 L315.37 426.4 L315.87 426 L316.37 425.61 L316.87 425.23 L317.37 424.84 L317.87 424.45 L318.37 424.07 L318.87 423.68 L319.37 423.3 L319.87 422.91 L320.37 422.53 L320.87 422.15 L321.37 421.77 L321.87 421.4 L322.37 421.03 L322.87 420.67 L323.37 420.32 L323.87 419.98 L324.37 419.66 L324.87 419.35 L325.37 419.05 L325.87 418.78 L326.37 418.52 L326.87 418.28 L327.37 418.05 L327.87 417.83 L328.37 417.61 L328.87 417.39 L329.37 417.16 L329.87 416.92 L330.37 416.68 L330.87 416.42 L331.37 416.17 L331.87 415.91 L332.37 415.65 L332.87 415.38 L333.37 415.1 L333.87 414.81 L334.37 414.52 L334.87 414.2 L335.37 413.84 L335.87 413.46 L336.37 413.06 L336.87 412.64 L337.37 412.2 L337.87 411.76 L338.37 411.31 L338.87 410.84 L339.37 410.33 L339.87 409.8 L340.37 409.25 L340.87 408.7 L341.37 408.17 L341.87 407.67 L342.37 407.21 L342.87 406.78 L343.37 406.4 L343.87 406.06 L344.37 405.77 L344.87 405.53 L345.37 405.35 L345.87 405.23 L346.37 405.19 L346.87 405.23 L347.37 405.33 L347.87 405.44 L348.37 405.58 L348.87 405.73 L349.37 405.91 L349.87 406.11 L350.37 406.32 L350.87 406.53 L351.37 406.74 L351.87 406.92 L352.37 407.07 L352.87 407.17 L353.37 407.22 L353.87 407.24 L354.37 407.21 L354.87 407.1 L355.37 406.92 L355.87 406.7 L356.37 406.42 L356.87 406.03 L357.37 405.57 L357.87 405.14 L358.37 404.8 L358.87 404.52 L359.37 404.29 L359.87 404.13 L360.37 404.06 L360.87 404.12 L361.37 404.25 L361.87 404.39 L362.37 404.54 L362.87 404.7 L363.37 404.85 L363.87 405.02 L364.37 405.19 L364.87 405.36 L365.37 405.52 L365.87 405.59 L366.37 405.47 L366.87 405.24 L367.37 404.93 L367.87 404.59 L368.37 404.19 L368.87 403.64 L369.37 402.85 L369.87 401.78 L370.37 400.66 L370.87 399.53 L371.37 398.41 L371.87 397.28 L372.37 396.16 L372.87 395.03 L373.37 393.91 L373.87 392.78 L374.37 391.66 L374.87 390.53 L375.37 389.41 L375.87 388.45 L376.37 387.73 L376.87 387.19 L377.37 386.78 L377.87 386.44 L378.37 386.14 L378.87 385.89 L379.37 385.72 L379.87 385.6 L380.37 385.56 L380.87 385.57 L381.37 385.65 L381.87 385.77 L382.37 385.96 L382.87 386.19 L383.37 386.48 L383.87 386.83 L384.37 387.23 L384.87 387.78 L385.37 388.49 L385.87 389.32 L386.37 390.25 L386.87 391.28 L387.37 392.48 L387.87 393.87 L388.37 395.48 L388.87 397.32 L389.37 399.34 L389.87 401.53 L390.37 403.9 L390.87 406.43 L391.37 409.1 L391.87 411.82 L392.37 414.52 L392.87 417.11 L393.37 419.57 L393.87 421.94 L394.37 424.21 L394.87 426.38 L395.37 428.37 L395.87 430.07 L396.37 431.47 L396.87 432.53 L397.37 433.3 L397.87 433.91 L398.37 434.38 L398.87 434.73 L399.37 434.97 L399.87 435.2 L400.37 435.41 L400.87 435.6 L401.37 435.75 L401.87 435.75 L402.37 435.75 L402.87 435.75" fill="none" stroke="#0000ff" stroke-width="2.05" stroke-linejoin="round" stroke-linecap="round"/>
<rect x="288.9" y="305.65" width="151.5" height="135.1" fill="none" stroke="#000" stroke-width="1"/>
<path d="M294.51 440.75H434.79M294.51 440.75v6.3M317.89 440.75v6.3M341.27 440.75v6.3M364.65 440.75v6.3M388.03 440.75v6.3M411.41 440.75v6.3M434.79 440.75v6.3M288.9 435.75V310.65M288.9 435.75h-6.3M288.9 410.73h-6.3M288.9 385.71h-6.3M288.9 360.69h-6.3M288.9 335.67h-6.3M288.9 310.65h-6.3" fill="none" stroke="#000" stroke-width="1"/>
<text x="294.51" y="460.95" text-anchor="middle">11.5</text>
<text x="341.27" y="460.95" text-anchor="middle">12.5</text>
<text x="388.03" y="460.95" text-anchor="middle">13.5</text>
<text x="434.79" y="460.95" text-anchor="middle">14.5</text>
<text transform="translate(274.9 435.75) rotate(-90)" text-anchor="middle">0.0</text>
<text transform="translate(274.9 410.73) rotate(-90)" text-anchor="middle">0.5</text>
<text transform="translate(274.9 385.71) rotate(-90)" text-anchor="middle">1.0</text>
<text transform="translate(274.9 360.69) rotate(-90)" text-anchor="middle">1.5</text>
<text transform="translate(274.9 335.67) rotate(-90)" text-anchor="middle">2.0</text>
<text transform="translate(274.9 310.65) rotate(-90)" text-anchor="middle">2.5</text>
<text x="364.65" y="483.15" text-anchor="middle">K</text>
<text transform="translate(252.7 373.2) rotate(-90)" text-anchor="middle">Density</text>
<rect x="288.9" y="305.65" width="67.7" height="22.5" fill="#fff" stroke="#000" stroke-width="1"/>
<text x="306" y="320.15">l(0<tspan dy="-4.3" dx="0.5" font-size="5.2px">o</tspan><tspan dy="4.3" dx="0.5">)/b(−6</tspan><tspan dy="-4.3" dx="0.5" font-size="5.2px">o</tspan><tspan dy="4.3" dx="0.5">)</tspan></text>
<text x="436" y="319.95" text-anchor="end">Disk<tspan dx="0.9" font-size="6.4px" stroke="#000" stroke-width="0.3">+</tspan><tspan dx="0.9">bulge</tspan></text>
</g>
<g>
<clipPath id="c12"><rect x="510.2" y="305.65" width="151.5" height="135.1"/></clipPath>
<line x1="510.2" y1="435.75" x2="661.7" y2="435.75" stroke="#d3d3d3" stroke-width="0.4"/>
<path clip-path="url(#c12)" d="M509.25 435.75 L509.75 435.75 L510.25 435.75 L510.75 435.75 L511.25 435.75 L511.75 435.75 L512.25 435.75 L512.75 435.75 L513.25 435.75 L513.75 435.75 L514.25 435.75 L514.75 435.75 L515.25 435.75 L515.75 435.75 L516.25 435.75 L516.75 435.75 L517.25 435.75 L517.75 435.75 L518.25 435.75 L518.75 435.75 L519.25 435.75 L519.75 435.75 L520.25 435.75 L520.75 435.75 L521.25 435.75 L521.75 435.75 L522.25 435.75 L522.75 435.75 L523.25 435.75 L523.75 435.75 L524.25 435.75 L524.75 435.75 L525.25 435.75 L525.75 435.75 L526.25 435.75 L526.75 435.75 L527.25 435.75 L527.75 435.75 L528.25 435.75 L528.75 435.75 L529.25 435.75 L529.75 435.75 L530.25 435.75 L530.75 435.75 L531.25 435.75 L531.75 435.75 L532.25 435.75 L532.75 435.75 L533.25 435.75 L533.75 435.75 L534.25 435.75 L534.75 435.75 L535.25 435.74 L535.75 435.72 L536.25 435.7 L536.75 435.68 L537.25 435.67 L537.75 435.65 L538.25 435.63 L538.75 435.62 L539.25 435.6 L539.75 435.58 L540.25 435.57 L540.75 435.55 L541.25 435.52 L541.75 435.48 L542.25 435.43 L542.75 435.38 L543.25 435.31 L543.75 435.24 L544.25 435.17 L544.75 435.09 L545.25 435 L545.75 434.91 L546.25 434.82 L546.75 434.68 L547.25 434.48 L547.75 434.24 L548.25 433.95 L548.75 433.63 L549.25 433.28 L549.75 432.9 L550.25 432.51 L550.75 432.07 L551.25 431.57 L551.75 430.99 L552.25 430.33 L552.75 429.61 L553.25 428.83 L553.75 427.98 L554.25 427.06 L554.75 426.07 L555.25 425 L555.75 423.84 L556.25 422.59 L556.75 421.26 L557.25 419.87 L557.75 418.43 L558.25 416.95 L558.75 415.41 L559.25 413.82 L559.75 412.17 L560.25 410.45 L560.75 408.67 L561.25 406.87 L561.75 405.1 L562.25 403.37 L562.75 401.72 L563.25 400.12 L563.75 398.59 L564.25 397.11 L564.75 395.7 L565.25 394.35 L565.75 393.1 L566.25 391.96 L566.75 390.93 L567.25 390.01 L567.75 389.22 L568.25 388.53 L568.75 387.88 L569.25 387.27 L569.75 386.71 L570.25 386.21 L570.75 385.79 L571.25 385.43 L571.75 385.07 L572.25 384.71 L572.75 384.35 L573.25 383.99 L573.75 383.63 L574.25 383.27 L574.75 382.91 L575.25 382.55 L575.75 382.19 L576.25 381.83 L576.75 381.47 L577.25 381.11 L577.75 380.75 L578.25 380.38 L578.75 379.96 L579.25 379.52 L579.75 379.06 L580.25 378.59 L580.75 378.12 L581.25 377.69 L581.75 377.28 L582.25 376.91 L582.75 376.57 L583.25 376.25 L583.75 375.96 L584.25 375.68 L584.75 375.45 L585.25 375.28 L585.75 375.17 L586.25 375.1 L586.75 375.06 L587.25 375.11 L587.75 375.22 L588.25 375.39 L588.75 375.62 L589.25 375.89 L589.75 376.26 L590.25 376.78 L590.75 377.44 L591.25 378.28 L591.75 379.27 L592.25 380.39 L592.75 381.62 L593.25 382.94 L593.75 384.3 L594.25 385.67 L594.75 387.14 L595.25 388.79 L595.75 390.64 L596.25 392.51 L596.75 394.39 L597.25 396.26 L597.75 398.14 L598.25 400.01 L598.75 401.89 L599.25 403.76 L599.75 405.64 L600.25 407.51 L600.75 409.39 L601.25 411.26 L601.75 412.99 L602.25 414.58 L602.75 416.04 L603.25 417.42 L603.75 418.74 L604.25 420.03 L604.75 421.27 L605.25 422.44 L605.75 423.55 L606.25 424.6 L606.75 425.58 L607.25 426.51 L607.75 427.39 L608.25 428.22 L608.75 429 L609.25 429.7 L609.75 430.34 L610.25 430.92 L610.75 431.47 L611.25 431.98 L611.75 432.44 L612.25 432.86 L612.75 433.23 L613.25 433.59 L613.75 433.93 L614.25 434.23 L614.75 434.49 L615.25 434.7 L615.75 434.87 L616.25 435.03 L616.75 435.18 L617.25 435.31 L617.75 435.42 L618.25 435.5 L618.75 435.56 L619.25 435.59 L619.75 435.63 L620.25 435.66 L620.75 435.69 L621.25 435.72 L621.75 435.75 L622.25 435.75 L622.75 435.75 L623.25 435.75 L623.75 435.75 L624.25 435.75 L624.75 435.75 L625.25 435.75 L625.75 435.75 L626.25 435.75 L626.75 435.75 L627.25 435.75 L627.75 435.75 L628.25 435.75 L628.75 435.75 L629.25 435.75 L629.75 435.75 L630.25 435.75 L630.75 435.75 L631.25 435.75 L631.75 435.75 L632.25 435.75 L632.75 435.75 L633.25 435.75 L633.75 435.75 L634.25 435.75 L634.75 435.75 L635.25 435.75 L635.75 435.75 L636.25 435.75 L636.75 435.75 L637.25 435.75 L637.75 435.75 L638.25 435.75 L638.75 435.75 L639.25 435.75 L639.75 435.75 L640.25 435.75 L640.75 435.75 L641.25 435.75 L641.75 435.75 L642.25 435.75 L642.75 435.75 L643.25 435.75 L643.75 435.75 L644.25 435.75 L644.75 435.75 L645.25 435.75 L645.75 435.75 L646.25 435.75 L646.75 435.75 L647.25 435.75 L647.75 435.75 L648.25 435.75 L648.75 435.75 L649.25 435.75 L649.75 435.75 L650.25 435.75 L650.75 435.75 L651.25 435.75 L651.75 435.75 L652.25 435.75 L652.75 435.75 L653.25 435.75 L653.75 435.75 L654.25 435.75 L654.75 435.75 L655.25 435.75 L655.75 435.75 L656.25 435.75 L656.75 435.75 L657.25 435.75 L657.75 435.75 L658.25 435.75 L658.75 435.75 L659.25 435.75 L659.75 435.75 L660.25 435.75 L660.75 435.75 L661.25 435.75 L661.75 435.75 L662.25 435.75" fill="none" stroke="#ff0000" stroke-width="2.05" stroke-linejoin="round" stroke-linecap="round"/>
<path clip-path="url(#c12)" d="M509.25 435.75 L509.75 435.75 L510.25 435.75 L510.75 435.75 L511.25 435.75 L511.75 435.75 L512.25 435.75 L512.75 435.75 L513.25 435.75 L513.75 435.75 L514.25 435.75 L514.75 435.75 L515.25 435.75 L515.75 435.75 L516.25 435.75 L516.75 435.75 L517.25 435.75 L517.75 435.75 L518.25 435.75 L518.75 435.75 L519.25 435.75 L519.75 435.75 L520.25 435.75 L520.75 435.75 L521.25 435.75 L521.75 435.75 L522.25 435.75 L522.75 435.75 L523.25 435.75 L523.75 435.75 L524.25 435.75 L524.75 435.75 L525.25 435.75 L525.75 435.75 L526.25 435.75 L526.75 435.75 L527.25 435.75 L527.75 435.75 L528.25 435.75 L528.75 435.75 L529.25 435.75 L529.75 435.75 L530.25 435.75 L530.75 435.75 L531.25 435.75 L531.75 435.75 L532.25 435.75 L532.75 435.75 L533.25 435.74 L533.75 435.72 L534.25 435.69 L534.75 435.67 L535.25 435.64 L535.75 435.62 L536.25 435.59 L536.75 435.57 L537.25 435.54 L537.75 435.5 L538.25 435.44 L538.75 435.37 L539.25 435.29 L539.75 435.19 L540.25 435.08 L540.75 434.96 L541.25 434.81 L541.75 434.62 L542.25 434.38 L542.75 434.1 L543.25 433.78 L543.75 433.42 L544.25 433.05 L544.75 432.66 L545.25 432.25 L545.75 431.81 L546.25 431.35 L546.75 430.85 L547.25 430.31 L547.75 429.74 L548.25 429.13 L548.75 428.48 L549.25 427.82 L549.75 427.12 L550.25 426.39 L550.75 425.62 L551.25 424.81 L551.75 423.93 L552.25 423.03 L552.75 422.13 L553.25 421.23 L553.75 420.33 L554.25 419.43 L554.75 418.53 L555.25 417.63 L555.75 416.73 L556.25 415.83 L556.75 414.93 L557.25 414.03 L557.75 413.13 L558.25 412.23 L558.75 411.33 L559.25 410.45 L559.75 409.59 L560.25 408.76 L560.75 407.96 L561.25 407.19 L561.75 406.43 L562.25 405.7 L562.75 404.98 L563.25 404.28 L563.75 403.58 L564.25 402.9 L564.75 402.24 L565.25 401.58 L565.75 400.94 L566.25 400.31 L566.75 399.7 L567.25 399.1 L567.75 398.49 L568.25 397.88 L568.75 397.28 L569.25 396.68 L569.75 396.08 L570.25 395.49 L570.75 394.9 L571.25 394.32 L571.75 393.73 L572.25 393.15 L572.75 392.57 L573.25 391.98 L573.75 391.4 L574.25 390.82 L574.75 390.23 L575.25 389.65 L575.75 389.07 L576.25 388.48 L576.75 387.9 L577.25 387.32 L577.75 386.73 L578.25 386.15 L578.75 385.57 L579.25 384.98 L579.75 384.41 L580.25 383.85 L580.75 383.3 L581.25 382.76 L581.75 382.23 L582.25 381.71 L582.75 381.19 L583.25 380.68 L583.75 380.23 L584.25 379.82 L584.75 379.44 L585.25 379.09 L585.75 378.75 L586.25 378.47 L586.75 378.27 L587.25 378.17 L587.75 378.18 L588.25 378.29 L588.75 378.46 L589.25 378.7 L589.75 378.99 L590.25 379.32 L590.75 379.68 L591.25 380.07 L591.75 380.49 L592.25 380.93 L592.75 381.41 L593.25 381.94 L593.75 382.51 L594.25 383.15 L594.75 383.86 L595.25 384.65 L595.75 385.51 L596.25 386.44 L596.75 387.44 L597.25 388.49 L597.75 389.58 L598.25 390.73 L598.75 391.94 L599.25 393.24 L599.75 394.62 L600.25 396.05 L600.75 397.52 L601.25 399.01 L601.75 400.53 L602.25 402.08 L602.75 403.67 L603.25 405.28 L603.75 406.92 L604.25 408.57 L604.75 410.2 L605.25 411.81 L605.75 413.38 L606.25 414.92 L606.75 416.43 L607.25 417.91 L607.75 419.37 L608.25 420.83 L608.75 422.24 L609.25 423.58 L609.75 424.85 L610.25 426.05 L610.75 427.17 L611.25 428.2 L611.75 429.13 L612.25 429.94 L612.75 430.67 L613.25 431.31 L613.75 431.89 L614.25 432.43 L614.75 432.93 L615.25 433.41 L615.75 433.82 L616.25 434.18 L616.75 434.45 L617.25 434.68 L617.75 434.9 L618.25 435.09 L618.75 435.26 L619.25 435.4 L619.75 435.5 L620.25 435.56 L620.75 435.6 L621.25 435.63 L621.75 435.67 L622.25 435.7 L622.75 435.73 L623.25 435.75 L623.75 435.75 L624.25 435.75 L624.75 435.75 L625.25 435.75 L625.75 435.75 L626.25 435.75 L626.75 435.75 L627.25 435.75 L627.75 435.75 L628.25 435.75 L628.75 435.75 L629.25 435.75 L629.75 435.75 L630.25 435.75 L630.75 435.75 L631.25 435.75 L631.75 435.75 L632.25 435.75 L632.75 435.75 L633.25 435.75 L633.75 435.75 L634.25 435.75 L634.75 435.75 L635.25 435.75 L635.75 435.75 L636.25 435.75 L636.75 435.75 L637.25 435.75 L637.75 435.75 L638.25 435.75 L638.75 435.75 L639.25 435.75 L639.75 435.75 L640.25 435.75 L640.75 435.75 L641.25 435.75 L641.75 435.75 L642.25 435.75 L642.75 435.75 L643.25 435.75 L643.75 435.75 L644.25 435.75 L644.75 435.75 L645.25 435.75 L645.75 435.75 L646.25 435.75 L646.75 435.75 L647.25 435.75 L647.75 435.75 L648.25 435.75 L648.75 435.75 L649.25 435.75 L649.75 435.75 L650.25 435.75 L650.75 435.75 L651.25 435.75 L651.75 435.75 L652.25 435.75 L652.75 435.75 L653.25 435.75 L653.75 435.75 L654.25 435.75 L654.75 435.75 L655.25 435.75 L655.75 435.75 L656.25 435.75 L656.75 435.75 L657.25 435.75 L657.75 435.75 L658.25 435.75 L658.75 435.75 L659.25 435.75 L659.75 435.75 L660.25 435.75 L660.75 435.75 L661.25 435.75 L661.75 435.75 L662.25 435.75" fill="none" stroke="#000000" stroke-width="2.05" stroke-linejoin="round" stroke-linecap="round"/>
<path clip-path="url(#c12)" d="M509.25 435.75 L509.75 435.75 L510.25 435.75 L510.75 435.75 L511.25 435.75 L511.75 435.75 L512.25 435.75 L512.75 435.75 L513.25 435.75 L513.75 435.75 L514.25 435.75 L514.75 435.75 L515.25 435.75 L515.75 435.75 L516.25 435.75 L516.75 435.75 L517.25 435.75 L517.75 435.75 L518.25 435.75 L518.75 435.75 L519.25 435.75 L519.75 435.75 L520.25 435.75 L520.75 435.75 L521.25 435.75 L521.75 435.75 L522.25 435.75 L522.75 435.75 L523.25 435.75 L523.75 435.75 L524.25 435.75 L524.75 435.75 L525.25 435.75 L525.75 435.75 L526.25 435.75 L526.75 435.75 L527.25 435.75 L527.75 435.75 L528.25 435.75 L528.75 435.75 L529.25 435.75 L529.75 435.75 L530.25 435.75 L530.75 435.75 L531.25 435.75 L531.75 435.75 L532.25 435.75 L532.75 435.75 L533.25 435.75 L533.75 435.75 L534.25 435.73 L534.75 435.7 L535.25 435.68 L535.75 435.65 L536.25 435.63 L536.75 435.6 L537.25 435.58 L537.75 435.55 L538.25 435.51 L538.75 435.46 L539.25 435.4 L539.75 435.32 L540.25 435.23 L540.75 435.13 L541.25 435.01 L541.75 434.87 L542.25 434.71 L542.75 434.49 L543.25 434.23 L543.75 433.92 L544.25 433.58 L544.75 433.21 L545.25 432.82 L545.75 432.41 L546.25 431.98 L546.75 431.51 L547.25 431.02 L547.75 430.5 L548.25 429.95 L548.75 429.38 L549.25 428.78 L549.75 428.17 L550.25 427.54 L550.75 426.88 L551.25 426.17 L551.75 425.41 L552.25 424.58 L552.75 423.69 L553.25 422.79 L553.75 421.89 L554.25 420.99 L554.75 420.09 L555.25 419.19 L555.75 418.29 L556.25 417.39 L556.75 416.49 L557.25 415.59 L557.75 414.69 L558.25 413.79 L558.75 412.89 L559.25 411.99 L559.75 411.09 L560.25 410.23 L560.75 409.39 L561.25 408.58 L561.75 407.8 L562.25 407.03 L562.75 406.29 L563.25 405.56 L563.75 404.84 L564.25 404.13 L564.75 403.44 L565.25 402.76 L565.75 402.1 L566.25 401.46 L566.75 400.84 L567.25 400.24 L567.75 399.65 L568.25 399.07 L568.75 398.49 L569.25 397.9 L569.75 397.32 L570.25 396.74 L570.75 396.15 L571.25 395.57 L571.75 394.99 L572.25 394.4 L572.75 393.82 L573.25 393.24 L573.75 392.65 L574.25 392.07 L574.75 391.49 L575.25 390.9 L575.75 390.32 L576.25 389.74 L576.75 389.15 L577.25 388.57 L577.75 387.99 L578.25 387.4 L578.75 386.82 L579.25 386.24 L579.75 385.65 L580.25 385.07 L580.75 384.5 L581.25 383.95 L581.75 383.41 L582.25 382.88 L582.75 382.35 L583.25 381.83 L583.75 381.31 L584.25 380.84 L584.75 380.41 L585.25 380.02 L585.75 379.66 L586.25 379.32 L586.75 379 L587.25 378.77 L587.75 378.64 L588.25 378.6 L588.75 378.65 L589.25 378.78 L589.75 378.96 L590.25 379.2 L590.75 379.49 L591.25 379.83 L591.75 380.19 L592.25 380.59 L592.75 381.03 L593.25 381.5 L593.75 382.01 L594.25 382.56 L594.75 383.16 L595.25 383.8 L595.75 384.51 L596.25 385.29 L596.75 386.13 L597.25 387.04 L597.75 388.03 L598.25 389.09 L598.75 390.21 L599.25 391.4 L599.75 392.67 L600.25 394.03 L600.75 395.46 L601.25 396.91 L601.75 398.39 L602.25 399.89 L602.75 401.43 L603.25 403 L603.75 404.61 L604.25 406.24 L604.75 407.88 L605.25 409.52 L605.75 411.15 L606.25 412.73 L606.75 414.29 L607.25 415.8 L607.75 417.3 L608.25 418.77 L608.75 420.22 L609.25 421.66 L609.75 423.03 L610.25 424.33 L610.75 425.56 L611.25 426.71 L611.75 427.79 L612.25 428.76 L612.75 429.62 L613.25 430.38 L613.75 431.05 L614.25 431.66 L614.75 432.21 L615.25 432.73 L615.75 433.22 L616.25 433.66 L616.75 434.04 L617.25 434.35 L617.75 434.59 L618.25 434.81 L618.75 435.01 L619.25 435.19 L619.75 435.34 L620.25 435.46 L620.75 435.54 L621.25 435.59 L621.75 435.63 L622.25 435.67 L622.75 435.7 L623.25 435.74 L623.75 435.75 L624.25 435.75 L624.75 435.75 L625.25 435.75 L625.75 435.75 L626.25 435.75 L626.75 435.75 L627.25 435.75 L627.75 435.75 L628.25 435.75 L628.75 435.75 L629.25 435.75 L629.75 435.75 L630.25 435.75 L630.75 435.75 L631.25 435.75 L631.75 435.75 L632.25 435.75 L632.75 435.75 L633.25 435.75 L633.75 435.75 L634.25 435.75 L634.75 435.75 L635.25 435.75 L635.75 435.75 L636.25 435.75 L636.75 435.75 L637.25 435.75 L637.75 435.75 L638.25 435.75 L638.75 435.75 L639.25 435.75 L639.75 435.75 L640.25 435.75 L640.75 435.75 L641.25 435.75 L641.75 435.75 L642.25 435.75 L642.75 435.75 L643.25 435.75 L643.75 435.75 L644.25 435.75 L644.75 435.75 L645.25 435.75 L645.75 435.75 L646.25 435.75 L646.75 435.75 L647.25 435.75 L647.75 435.75 L648.25 435.75 L648.75 435.75 L649.25 435.75 L649.75 435.75 L650.25 435.75 L650.75 435.75 L651.25 435.75 L651.75 435.75 L652.25 435.75 L652.75 435.75 L653.25 435.75 L653.75 435.75 L654.25 435.75 L654.75 435.75 L655.25 435.75 L655.75 435.75 L656.25 435.75 L656.75 435.75 L657.25 435.75 L657.75 435.75 L658.25 435.75 L658.75 435.75 L659.25 435.75 L659.75 435.75 L660.25 435.75 L660.75 435.75 L661.25 435.75 L661.75 435.75 L662.25 435.75" fill="none" stroke="#0000ff" stroke-width="2.05" stroke-linejoin="round" stroke-linecap="round"/>
<rect x="510.2" y="305.65" width="151.5" height="135.1" fill="none" stroke="#000" stroke-width="1"/>
<path d="M515.81 440.75H656.09M515.81 440.75v6.3M539.19 440.75v6.3M562.57 440.75v6.3M585.95 440.75v6.3M609.33 440.75v6.3M632.71 440.75v6.3M656.09 440.75v6.3M510.2 435.75V310.65M510.2 435.75h-6.3M510.2 410.73h-6.3M510.2 385.71h-6.3M510.2 360.69h-6.3M510.2 335.67h-6.3M510.2 310.65h-6.3" fill="none" stroke="#000" stroke-width="1"/>
<text x="515.81" y="460.95" text-anchor="middle">11.5</text>
<text x="562.57" y="460.95" text-anchor="middle">12.5</text>
<text x="609.33" y="460.95" text-anchor="middle">13.5</text>
<text x="656.09" y="460.95" text-anchor="middle">14.5</text>
<text transform="translate(496.2 435.75) rotate(-90)" text-anchor="middle">0.0</text>
<text transform="translate(496.2 410.73) rotate(-90)" text-anchor="middle">0.5</text>
<text transform="translate(496.2 385.71) rotate(-90)" text-anchor="middle">1.0</text>
<text transform="translate(496.2 360.69) rotate(-90)" text-anchor="middle">1.5</text>
<text transform="translate(496.2 335.67) rotate(-90)" text-anchor="middle">2.0</text>
<text transform="translate(496.2 310.65) rotate(-90)" text-anchor="middle">2.5</text>
<text x="585.95" y="480.85" text-anchor="middle">K<tspan dy="2.6" font-size="7.2px">0</tspan></text>
<text transform="translate(474 373.2) rotate(-90)" text-anchor="middle">Density</text>
<rect x="510.2" y="305.65" width="67.7" height="22.5" fill="#fff" stroke="#000" stroke-width="1"/>
<text x="527.3" y="320.15">l(0<tspan dy="-4.3" dx="0.5" font-size="5.2px">o</tspan><tspan dy="4.3" dx="0.5">)/b(−5</tspan><tspan dy="-4.3" dx="0.5" font-size="5.2px">o</tspan><tspan dy="4.3" dx="0.5">)</tspan></text>
<text x="657.3" y="319.95" text-anchor="end">ARGOS</text>
</g>
<g>
<clipPath id="c20"><rect x="67.6" y="544.8" width="151.5" height="135.1"/></clipPath>
<line x1="67.6" y1="674.9" x2="219.1" y2="674.9" stroke="#d3d3d3" stroke-width="0.4"/>
<path clip-path="url(#c20)" d="M85.62 674.9 L86.12 674.9 L86.62 674.9 L87.12 674.87 L87.62 674.82 L88.12 674.77 L88.62 674.71 L89.12 674.65 L89.62 674.59 L90.12 674.53 L90.62 674.46 L91.12 674.4 L91.62 674.33 L92.12 674.26 L92.62 674.19 L93.12 674.11 L93.62 674.03 L94.12 673.95 L94.62 673.85 L95.12 673.76 L95.62 673.65 L96.12 673.54 L96.62 673.42 L97.12 673.29 L97.62 673.16 L98.12 673 L98.62 672.83 L99.12 672.65 L99.62 672.45 L100.12 672.24 L100.62 672.02 L101.12 671.8 L101.62 671.57 L102.12 671.35 L102.62 671.11 L103.12 670.86 L103.62 670.6 L104.12 670.33 L104.62 670.06 L105.12 669.79 L105.62 669.51 L106.12 669.21 L106.62 668.88 L107.12 668.52 L107.62 668.11 L108.12 667.67 L108.62 667.17 L109.12 666.62 L109.62 665.96 L110.12 665.18 L110.62 664.3 L111.12 663.34 L111.62 662.33 L112.12 661.27 L112.62 660.21 L113.12 659.12 L113.62 658 L114.12 656.85 L114.62 655.65 L115.12 654.41 L115.62 653.12 L116.12 651.77 L116.62 650.35 L117.12 648.85 L117.62 647.28 L118.12 645.65 L118.62 643.98 L119.12 642.28 L119.62 640.55 L120.12 638.78 L120.62 636.94 L121.12 635.03 L121.62 633.04 L122.12 630.97 L122.62 628.82 L123.12 626.57 L123.62 624.18 L124.12 621.62 L124.62 618.9 L125.12 616.05 L125.62 613.08 L126.12 610 L126.62 606.8 L127.12 603.48 L127.62 600.08 L128.12 596.61 L128.62 592.89 L129.12 588.91 L129.62 584.96 L130.12 581.35 L130.62 578.39 L131.12 576.2 L131.62 574.81 L132.12 573.98 L132.62 573.58 L133.12 573.45 L133.62 573.5 L134.12 573.78 L134.62 574.29 L135.12 575.22 L135.62 576.61 L136.12 578.2 L136.62 579.93 L137.12 581.75 L137.62 583.65 L138.12 585.7 L138.62 587.78 L139.12 589.79 L139.62 591.61 L140.12 593.26 L140.62 594.7 L141.12 595.88 L141.62 596.73 L142.12 597.42 L142.62 598.09 L143.12 598.75 L143.62 599.39 L144.12 600.03 L144.62 600.64 L145.12 601.26 L145.62 601.95 L146.12 602.97 L146.62 604.36 L147.12 606.12 L147.62 608.17 L148.12 610.37 L148.62 612.72 L149.12 615.23 L149.62 617.88 L150.12 620.54 L150.62 623.21 L151.12 625.88 L151.62 628.54 L152.12 631.21 L152.62 633.88 L153.12 636.54 L153.62 639.21 L154.12 641.7 L154.62 643.96 L155.12 646.16 L155.62 648.44 L156.12 650.77 L156.62 653.11 L157.12 655.45 L157.62 657.77 L158.12 659.83 L158.62 661.5 L159.12 662.81 L159.62 663.81 L160.12 664.59 L160.62 665.31 L161.12 665.97 L161.62 666.55 L162.12 667.07 L162.62 667.56 L163.12 668.04 L163.62 668.54 L164.12 669.09 L164.62 669.68 L165.12 670.3 L165.62 670.91 L166.12 671.5 L166.62 672.04 L167.12 672.55 L167.62 672.99 L168.12 673.38 L168.62 673.68 L169.12 673.94 L169.62 674.15 L170.12 674.32 L170.62 674.46 L171.12 674.58 L171.62 674.69 L172.12 674.79 L172.62 674.87 L173.12 674.9 L173.62 674.9" fill="none" stroke="#ff0000" stroke-width="2.05" stroke-linejoin="round" stroke-linecap="round"/>
<path clip-path="url(#c20)" d="M84.92 674.9 L85.42 674.9 L85.92 674.9 L86.42 674.9 L86.92 674.9 L87.42 674.85 L87.92 674.77 L88.42 674.67 L88.92 674.54 L89.42 674.38 L89.92 674.18 L90.42 673.94 L90.92 673.67 L91.42 673.37 L91.92 673.07 L92.42 672.76 L92.92 672.45 L93.42 672.14 L93.92 671.85 L94.42 671.56 L94.92 671.29 L95.42 671.02 L95.92 670.76 L96.42 670.52 L96.92 670.37 L97.42 670.31 L97.92 670.27 L98.42 670.21 L98.92 670.09 L99.42 669.88 L99.92 669.64 L100.42 669.36 L100.92 669.03 L101.42 668.64 L101.92 668.18 L102.42 667.68 L102.92 667.18 L103.42 666.68 L103.92 666.18 L104.42 665.68 L104.92 665.18 L105.42 664.68 L105.92 664.18 L106.42 663.68 L106.92 663.18 L107.42 662.68 L107.92 662.18 L108.42 661.68 L108.92 661 L109.42 660.13 L109.92 659.09 L110.42 657.93 L110.92 656.67 L111.42 655.36 L111.92 653.91 L112.42 652.32 L112.92 650.55 L113.42 648.58 L113.92 646.4 L114.42 644.07 L114.92 641.68 L115.42 639.23 L115.92 636.69 L116.42 634.07 L116.92 631.35 L117.42 628.6 L117.92 625.85 L118.42 623.1 L118.92 620.35 L119.42 617.6 L119.92 614.85 L120.42 612.1 L120.92 609.35 L121.42 606.6 L121.92 603.85 L122.42 601.1 L122.92 598.51 L123.42 596.24 L123.92 594.19 L124.42 592.29 L124.92 590.52 L125.42 589.04 L125.92 587.85 L126.42 586.94 L126.92 586.37 L127.42 586.09 L127.92 586.04 L128.42 586.29 L128.92 586.86 L129.42 587.77 L129.92 589.16 L130.42 591.17 L130.92 593.74 L131.42 596.53 L131.92 599.5 L132.42 602.64 L132.92 605.94 L133.42 609.32 L133.92 612.71 L134.42 616.01 L134.92 619.14 L135.42 622.1 L135.92 624.9 L136.42 627.52 L136.92 629.92 L137.42 631.85 L137.92 633.37 L138.42 634.53 L138.92 635.39 L139.42 635.89 L139.92 636.03 L140.42 635.91 L140.92 635.49 L141.42 634.65 L141.92 633.57 L142.42 632.33 L142.92 630.88 L143.42 629.26 L143.92 627.57 L144.42 625.88 L144.92 624.21 L145.42 622.61 L145.92 621.05 L146.42 619.54 L146.92 618.09 L147.42 616.74 L147.92 615.7 L148.42 614.94 L148.92 614.38 L149.42 613.98 L149.92 613.75 L150.42 613.66 L150.92 613.67 L151.42 613.85 L151.92 614.23 L152.42 614.79 L152.92 615.53 L153.42 616.58 L153.92 618.17 L154.42 620.53 L154.92 623.22 L155.42 625.94 L155.92 628.68 L156.42 631.42 L156.92 634.15 L157.42 636.86 L157.92 639.54 L158.42 642.23 L158.92 644.9 L159.42 647.55 L159.92 650.14 L160.42 652.42 L160.92 654.4 L161.42 656.19 L161.92 657.85 L162.42 659.44 L162.92 660.89 L163.42 662.16 L163.92 663.17 L164.42 664 L164.92 664.79 L165.42 665.56 L165.92 666.29 L166.42 666.98 L166.92 667.65 L167.42 668.31 L167.92 668.96 L168.42 669.59 L168.92 670.21 L169.42 670.79 L169.92 671.34 L170.42 671.85 L170.92 672.31 L171.42 672.72 L171.92 673.09 L172.42 673.41 L172.92 673.68 L173.42 673.93 L173.92 674.14 L174.42 674.32 L174.92 674.47 L175.42 674.59 L175.92 674.7 L176.42 674.79 L176.92 674.87 L177.42 674.9 L177.92 674.9 L178.42 674.9" fill="none" stroke="#000000" stroke-width="2.05" stroke-linejoin="round" stroke-linecap="round"/>
<path clip-path="url(#c20)" d="M77.83 674.9 L78.33 674.9 L78.83 674.9 L79.33 674.9 L79.83 674.9 L80.33 674.9 L80.83 674.87 L81.33 674.75 L81.83 674.61 L82.33 674.45 L82.83 674.26 L83.33 674.04 L83.83 673.77 L84.33 673.46 L84.83 673.1 L85.33 672.69 L85.83 672.23 L86.33 671.73 L86.83 671.18 L87.33 670.58 L87.83 669.9 L88.33 669.11 L88.83 668.18 L89.33 667.1 L89.83 665.97 L90.33 664.85 L90.83 663.72 L91.33 662.6 L91.83 661.47 L92.33 660.35 L92.83 659.22 L93.33 658.1 L93.83 656.97 L94.33 655.85 L94.83 654.72 L95.33 653.63 L95.83 652.6 L96.33 651.63 L96.83 650.72 L97.33 649.87 L97.83 649.09 L98.33 648.34 L98.83 647.63 L99.33 646.97 L99.83 646.34 L100.33 645.75 L100.83 645.2 L101.33 644.69 L101.83 644.19 L102.33 643.69 L102.83 643.19 L103.33 642.69 L103.83 642.19 L104.33 641.69 L104.83 641.19 L105.33 640.69 L105.83 640.19 L106.33 639.69 L106.83 639.19 L107.33 638.69 L107.83 638.19 L108.33 637.69 L108.83 637.19 L109.33 636.68 L109.83 636.12 L110.33 635.53 L110.83 634.91 L111.33 634.28 L111.83 633.65 L112.33 633.02 L112.83 632.41 L113.33 631.79 L113.83 631.16 L114.33 630.52 L114.83 629.9 L115.33 629.28 L115.83 628.73 L116.33 628.29 L116.83 627.94 L117.33 627.63 L117.83 627.36 L118.33 627.18 L118.83 627.09 L119.33 627.08 L119.83 627.15 L120.33 627.34 L120.83 627.65 L121.33 628.08 L121.83 628.63 L122.33 629.28 L122.83 630.04 L123.33 630.93 L123.83 631.99 L124.33 633.17 L124.83 634.37 L125.33 635.61 L125.83 636.87 L126.33 638.17 L126.83 639.51 L127.33 640.88 L127.83 642.26 L128.33 643.65 L128.83 645.03 L129.33 646.4 L129.83 647.74 L130.33 649.04 L130.83 650.31 L131.33 651.55 L131.83 652.76 L132.33 653.95 L132.83 655.07 L133.33 656.09 L133.83 657 L134.33 657.8 L134.83 658.52 L135.33 659.14 L135.83 659.67 L136.33 660.12 L136.83 660.49 L137.33 660.79 L137.83 661.03 L138.33 661.2 L138.83 661.33 L139.33 661.39 L139.83 661.41 L140.33 661.37 L140.83 661.24 L141.33 661.02 L141.83 660.73 L142.33 660.35 L142.83 659.87 L143.33 659.26 L143.83 658.53 L144.33 657.69 L144.83 656.73 L145.33 655.67 L145.83 654.53 L146.33 653.29 L146.83 651.92 L147.33 650.42 L147.83 648.76 L148.33 646.96 L148.83 645.13 L149.33 643.27 L149.83 641.38 L150.33 639.46 L150.83 637.52 L151.33 635.55 L151.83 633.53 L152.33 631.5 L152.83 629.48 L153.33 627.49 L153.83 625.56 L154.33 623.75 L154.83 622.06 L155.33 620.47 L155.83 618.96 L156.33 617.51 L156.83 616.16 L157.33 614.99 L157.83 614.02 L158.33 613.24 L158.83 612.67 L159.33 612.26 L159.83 612.01 L160.33 611.86 L160.83 611.8 L161.33 611.82 L161.83 611.91 L162.33 612.1 L162.83 612.38 L163.33 612.77 L163.83 613.3 L164.33 614.08 L164.83 615.11 L165.33 616.33 L165.83 617.71 L166.33 619.25 L166.83 620.98 L167.33 622.97 L167.83 625.26 L168.33 627.76 L168.83 630.37 L169.33 633.09 L169.83 635.92 L170.33 638.87 L170.83 641.9 L171.33 644.94 L171.83 647.94 L172.33 650.83 L172.83 653.6 L173.33 656.27 L173.83 658.82 L174.33 661.27 L174.83 663.45 L175.33 665.35 L175.83 666.97 L176.33 668.33 L176.83 669.51 L177.33 670.52 L177.83 671.34 L178.33 671.95 L178.83 672.41 L179.33 672.84 L179.83 673.23 L180.33 673.56 L180.83 673.81 L181.33 673.99 L181.83 674.17 L182.33 674.34 L182.83 674.49 L183.33 674.61 L183.83 674.71 L184.33 674.79 L184.83 674.86 L185.33 674.9 L185.83 674.9" fill="none" stroke="#0000ff" stroke-width="2.05" stroke-linejoin="round" stroke-linecap="round"/>
<rect x="67.6" y="544.8" width="151.5" height="135.1" fill="none" stroke="#000" stroke-width="1"/>
<path d="M73.21 679.9H213.49M73.21 679.9v6.3M96.59 679.9v6.3M119.97 679.9v6.3M143.35 679.9v6.3M166.73 679.9v6.3M190.11 679.9v6.3M213.49 679.9v6.3M67.6 674.9V549.8M67.6 674.9h-6.3M67.6 643.62h-6.3M67.6 612.35h-6.3M67.6 581.08h-6.3M67.6 549.8h-6.3" fill="none" stroke="#000" stroke-width="1"/>
<text x="73.21" y="700.1" text-anchor="middle">11.5</text>
<text x="119.97" y="700.1" text-anchor="middle">12.5</text>
<text x="166.73" y="700.1" text-anchor="middle">13.5</text>
<text x="213.49" y="700.1" text-anchor="middle">14.5</text>
<text transform="translate(53.6 674.9) rotate(-90)" text-anchor="middle">0.0</text>
<text transform="translate(53.6 643.62) rotate(-90)" text-anchor="middle">0.5</text>
<text transform="translate(53.6 612.35) rotate(-90)" text-anchor="middle">1.0</text>
<text transform="translate(53.6 581.08) rotate(-90)" text-anchor="middle">1.5</text>
<text transform="translate(53.6 549.8) rotate(-90)" text-anchor="middle">2.0</text>
<text x="143.35" y="722.3" text-anchor="middle">K</text>
<text transform="translate(31.4 612.35) rotate(-90)" text-anchor="middle">Density</text>
<rect x="67.6" y="544.8" width="67.7" height="22.5" fill="#fff" stroke="#000" stroke-width="1"/>
<text x="84.7" y="559.3">l(0<tspan dy="-4.3" dx="0.5" font-size="5.2px">o</tspan><tspan dy="4.3" dx="0.5">)/b(−8</tspan><tspan dy="-4.3" dx="0.5" font-size="5.2px">o</tspan><tspan dy="4.3" dx="0.5">)</tspan></text>
<text x="214.7" y="559.1" text-anchor="end">Disk only</text>
</g>
<g>
<clipPath id="c21"><rect x="288.9" y="544.8" width="151.5" height="135.1"/></clipPath>
<line x1="288.9" y1="674.9" x2="440.4" y2="674.9" stroke="#d3d3d3" stroke-width="0.4"/>
<path clip-path="url(#c21)" d="M307.32 674.9 L307.82 674.9 L308.32 674.9 L308.82 674.9 L309.32 674.9 L309.82 674.9 L310.32 674.9 L310.82 674.9 L311.32 674.9 L311.82 674.9 L312.32 674.9 L312.82 674.9 L313.32 674.9 L313.82 674.86 L314.32 674.79 L314.82 674.71 L315.32 674.63 L315.82 674.55 L316.32 674.45 L316.82 674.36 L317.32 674.25 L317.82 674.14 L318.32 674.02 L318.82 673.89 L319.32 673.76 L319.82 673.6 L320.32 673.43 L320.82 673.25 L321.32 673.05 L321.82 672.84 L322.32 672.62 L322.82 672.4 L323.32 672.17 L323.82 671.95 L324.32 671.71 L324.82 671.46 L325.32 671.2 L325.82 670.93 L326.32 670.66 L326.82 670.39 L327.32 670.11 L327.82 669.81 L328.32 669.48 L328.82 669.12 L329.32 668.71 L329.82 668.27 L330.32 667.77 L330.82 667.22 L331.32 666.56 L331.82 665.78 L332.32 664.9 L332.82 663.94 L333.32 662.93 L333.82 661.87 L334.32 660.81 L334.82 659.72 L335.32 658.6 L335.82 657.45 L336.32 656.25 L336.82 655.01 L337.32 653.72 L337.82 652.37 L338.32 650.95 L338.82 649.45 L339.32 647.88 L339.82 646.25 L340.32 644.58 L340.82 642.88 L341.32 641.15 L341.82 639.38 L342.32 637.54 L342.82 635.63 L343.32 633.64 L343.82 631.57 L344.32 629.42 L344.82 627.17 L345.32 624.78 L345.82 622.22 L346.32 619.5 L346.82 616.65 L347.32 613.68 L347.82 610.6 L348.32 607.4 L348.82 604.08 L349.32 600.68 L349.82 597.21 L350.32 593.49 L350.82 589.51 L351.32 585.56 L351.82 581.95 L352.32 578.99 L352.82 576.8 L353.32 575.41 L353.82 574.58 L354.32 574.18 L354.82 574.05 L355.32 574.1 L355.82 574.38 L356.32 574.89 L356.82 575.82 L357.32 577.21 L357.82 578.8 L358.32 580.53 L358.82 582.35 L359.32 584.25 L359.82 586.3 L360.32 588.38 L360.82 590.39 L361.32 592.21 L361.82 593.86 L362.32 595.3 L362.82 596.48 L363.32 597.33 L363.82 598.02 L364.32 598.69 L364.82 599.35 L365.32 599.99 L365.82 600.63 L366.32 601.24 L366.82 601.86 L367.32 602.55 L367.82 603.57 L368.32 604.96 L368.82 606.72 L369.32 608.77 L369.82 610.97 L370.32 613.32 L370.82 615.83 L371.32 618.48 L371.82 621.14 L372.32 623.81 L372.82 626.48 L373.32 629.14 L373.82 631.81 L374.32 634.48 L374.82 637.14 L375.32 639.81 L375.82 642.3 L376.32 644.56 L376.82 646.76 L377.32 649.04 L377.82 651.37 L378.32 653.71 L378.82 656.05 L379.32 658.37 L379.82 660.43 L380.32 662.1 L380.82 663.41 L381.32 664.41 L381.82 665.19 L382.32 665.91 L382.82 666.57 L383.32 667.15 L383.82 667.67 L384.32 668.16 L384.82 668.64 L385.32 669.14 L385.82 669.69 L386.32 670.28 L386.82 670.9 L387.32 671.51 L387.82 672.1 L388.32 672.64 L388.82 673.15 L389.32 673.59 L389.82 673.98 L390.32 674.28 L390.82 674.54 L391.32 674.75 L391.82 674.9 L392.32 674.9 L392.82 674.9 L393.32 674.9 L393.82 674.9 L394.32 674.9 L394.82 674.9 L395.32 674.9" fill="none" stroke="#ff0000" stroke-width="2.05" stroke-linejoin="round" stroke-linecap="round"/>
<path clip-path="url(#c21)" d="M305.92 674.9 L306.42 674.9 L306.92 674.9 L307.42 674.9 L307.92 674.9 L308.42 674.85 L308.92 674.77 L309.42 674.67 L309.92 674.54 L310.42 674.38 L310.92 674.18 L311.42 673.94 L311.92 673.67 L312.42 673.37 L312.92 673.07 L313.42 672.76 L313.92 672.45 L314.42 672.14 L314.92 671.85 L315.42 671.56 L315.92 671.29 L316.42 671.02 L316.92 670.76 L317.42 670.52 L317.92 670.37 L318.42 670.31 L318.92 670.27 L319.42 670.21 L319.92 670.09 L320.42 669.88 L320.92 669.63 L321.42 669.35 L321.92 669.01 L322.42 668.63 L322.92 668.18 L323.42 667.7 L323.92 667.2 L324.42 666.69 L324.92 666.18 L325.42 665.68 L325.92 665.19 L326.42 664.72 L326.92 664.26 L327.42 663.81 L327.92 663.36 L328.42 662.91 L328.92 662.45 L329.42 661.96 L329.92 661.33 L330.42 660.53 L330.92 659.58 L331.42 658.51 L331.92 657.35 L332.42 656.11 L332.92 654.73 L333.42 653.21 L333.92 651.55 L334.42 649.75 L334.92 647.8 L335.42 645.75 L335.92 643.66 L336.42 641.49 L336.92 639.21 L337.42 636.79 L337.92 634.22 L338.42 631.59 L338.92 628.97 L339.42 626.34 L339.92 623.72 L340.42 621.09 L340.92 618.47 L341.42 615.84 L341.92 613.22 L342.42 610.59 L342.92 607.97 L343.42 605.34 L343.92 602.84 L344.42 600.59 L344.92 598.52 L345.42 596.56 L345.92 594.72 L346.42 593.15 L346.92 591.83 L347.42 590.71 L347.92 589.84 L348.42 589.27 L348.92 588.94 L349.42 588.84 L349.92 589.07 L350.42 589.66 L350.92 590.62 L351.42 591.95 L351.92 593.69 L352.42 595.76 L352.92 598 L353.42 600.4 L353.92 602.99 L354.42 605.82 L354.92 608.79 L355.42 611.71 L355.92 614.38 L356.42 616.81 L356.92 619.03 L357.42 621.07 L357.92 622.92 L358.42 624.55 L358.92 625.89 L359.42 626.97 L359.92 627.79 L360.42 628.37 L360.92 628.71 L361.42 628.81 L361.92 628.76 L362.42 628.52 L362.92 627.95 L363.42 626.95 L363.92 625.82 L364.42 624.63 L364.92 623.38 L365.42 622.1 L365.92 620.74 L366.42 619.36 L366.92 618.03 L367.42 616.81 L367.92 615.84 L368.42 615.12 L368.92 614.54 L369.42 614.08 L369.92 613.79 L370.42 613.66 L370.92 613.67 L371.42 613.88 L371.92 614.32 L372.42 614.96 L372.92 615.8 L373.42 616.88 L373.92 618.24 L374.42 619.96 L374.92 622.01 L375.42 624.19 L375.92 626.51 L376.42 628.97 L376.92 631.6 L377.42 634.27 L377.92 636.94 L378.42 639.6 L378.92 642.27 L379.42 644.94 L379.92 647.6 L380.42 650.27 L380.92 652.94 L381.42 655.33 L381.92 657.12 L382.42 658.48 L382.92 659.64 L383.42 660.77 L383.92 661.93 L384.42 663.02 L384.92 663.97 L385.42 664.69 L385.92 665.3 L386.42 665.89 L386.92 666.48 L387.42 667.06 L387.92 667.63 L388.42 668.2 L388.92 668.77 L389.42 669.33 L389.92 669.9 L390.42 670.45 L390.92 671 L391.42 671.54 L391.92 672.02 L392.42 672.44 L392.92 672.8 L393.42 673.11 L393.92 673.39 L394.42 673.64 L394.92 673.87 L395.42 674.09 L395.92 674.28 L396.42 674.45 L396.92 674.6 L397.42 674.72 L397.92 674.82 L398.42 674.9 L398.92 674.9 L399.42 674.9" fill="none" stroke="#000000" stroke-width="2.05" stroke-linejoin="round" stroke-linecap="round"/>
<path clip-path="url(#c21)" d="M300.25 674.9 L300.75 674.9 L301.25 674.9 L301.75 674.9 L302.25 674.9 L302.75 674.83 L303.25 674.7 L303.75 674.55 L304.25 674.37 L304.75 674.17 L305.25 673.94 L305.75 673.66 L306.25 673.34 L306.75 672.97 L307.25 672.54 L307.75 672.04 L308.25 671.49 L308.75 670.87 L309.25 670.19 L309.75 669.44 L310.25 668.62 L310.75 667.72 L311.25 666.74 L311.75 665.76 L312.25 664.76 L312.75 663.76 L313.25 662.75 L313.75 661.72 L314.25 660.68 L314.75 659.62 L315.25 658.56 L315.75 657.5 L316.25 656.46 L316.75 655.44 L317.25 654.48 L317.75 653.59 L318.25 652.77 L318.75 652.02 L319.25 651.34 L319.75 650.73 L320.25 650.14 L320.75 649.58 L321.25 649.03 L321.75 648.51 L322.25 648 L322.75 647.52 L323.25 647.05 L323.75 646.59 L324.25 646.14 L324.75 645.68 L325.25 645.23 L325.75 644.77 L326.25 644.3 L326.75 643.83 L327.25 643.35 L327.75 642.87 L328.25 642.39 L328.75 641.9 L329.25 641.4 L329.75 640.89 L330.25 640.36 L330.75 639.81 L331.25 639.23 L331.75 638.65 L332.25 638.05 L332.75 637.44 L333.25 636.83 L333.75 636.21 L334.25 635.6 L334.75 634.99 L335.25 634.36 L335.75 633.73 L336.25 633.09 L336.75 632.47 L337.25 631.86 L337.75 631.35 L338.25 630.92 L338.75 630.54 L339.25 630.19 L339.75 629.91 L340.25 629.71 L340.75 629.59 L341.25 629.52 L341.75 629.52 L342.25 629.63 L342.75 629.84 L343.25 630.19 L343.75 630.66 L344.25 631.23 L344.75 631.88 L345.25 632.64 L345.75 633.52 L346.25 634.43 L346.75 635.37 L347.25 636.3 L347.75 637.23 L348.25 638.15 L348.75 639.06 L349.25 639.96 L349.75 640.85 L350.25 641.73 L350.75 642.58 L351.25 643.41 L351.75 644.16 L352.25 644.79 L352.75 645.33 L353.25 645.81 L353.75 646.24 L354.25 646.66 L354.75 647.07 L355.25 647.44 L355.75 647.78 L356.25 648.07 L356.75 648.3 L357.25 648.47 L357.75 648.61 L358.25 648.73 L358.75 648.83 L359.25 648.91 L359.75 648.98 L360.25 649.04 L360.75 649.09 L361.25 649.13 L361.75 649.14 L362.25 649.13 L362.75 649.11 L363.25 649.07 L363.75 648.98 L364.25 648.8 L364.75 648.56 L365.25 648.26 L365.75 647.92 L366.25 647.54 L366.75 647.1 L367.25 646.57 L367.75 645.95 L368.25 645.24 L368.75 644.45 L369.25 643.56 L369.75 642.6 L370.25 641.56 L370.75 640.42 L371.25 639.18 L371.75 637.82 L372.25 636.37 L372.75 634.87 L373.25 633.34 L373.75 631.81 L374.25 630.3 L374.75 628.84 L375.25 627.39 L375.75 625.98 L376.25 624.59 L376.75 623.24 L377.25 621.94 L377.75 620.74 L378.25 619.82 L378.75 619.13 L379.25 618.6 L379.75 618.19 L380.25 617.88 L380.75 617.67 L381.25 617.54 L381.75 617.47 L382.25 617.48 L382.75 617.55 L383.25 617.72 L383.75 617.98 L384.25 618.35 L384.75 618.86 L385.25 619.62 L385.75 620.62 L386.25 621.8 L386.75 623.13 L387.25 624.56 L387.75 626.12 L388.25 627.86 L388.75 629.83 L389.25 631.98 L389.75 634.23 L390.25 636.59 L390.75 639.08 L391.25 641.69 L391.75 644.36 L392.25 647.06 L392.75 649.73 L393.25 652.36 L393.75 654.93 L394.25 657.44 L394.75 659.9 L395.25 662.27 L395.75 664.37 L396.25 666.12 L396.75 667.59 L397.25 668.84 L397.75 669.93 L398.25 670.89 L398.75 671.69 L399.25 672.3 L399.75 672.74 L400.25 673.14 L400.75 673.51 L401.25 673.83 L401.75 674.07 L402.25 674.23 L402.75 674.38 L403.25 674.53 L403.75 674.65 L404.25 674.76 L404.75 674.84 L405.25 674.9 L405.75 674.9 L406.25 674.9 L406.75 674.9" fill="none" stroke="#0000ff" stroke-width="2.05" stroke-linejoin="round" stroke-linecap="round"/>
<rect x="288.9" y="544.8" width="151.5" height="135.1" fill="none" stroke="#000" stroke-width="1"/>
<path d="M294.51 679.9H434.79M294.51 679.9v6.3M317.89 679.9v6.3M341.27 679.9v6.3M364.65 679.9v6.3M388.03 679.9v6.3M411.41 679.9v6.3M434.79 679.9v6.3M288.9 674.9V549.8M288.9 674.9h-6.3M288.9 643.62h-6.3M288.9 612.35h-6.3M288.9 581.08h-6.3M288.9 549.8h-6.3" fill="none" stroke="#000" stroke-width="1"/>
<text x="294.51" y="700.1" text-anchor="middle">11.5</text>
<text x="341.27" y="700.1" text-anchor="middle">12.5</text>
<text x="388.03" y="700.1" text-anchor="middle">13.5</text>
<text x="434.79" y="700.1" text-anchor="middle">14.5</text>
<text transform="translate(274.9 674.9) rotate(-90)" text-anchor="middle">0.0</text>
<text transform="translate(274.9 643.62) rotate(-90)" text-anchor="middle">0.5</text>
<text transform="translate(274.9 612.35) rotate(-90)" text-anchor="middle">1.0</text>
<text transform="translate(274.9 581.08) rotate(-90)" text-anchor="middle">1.5</text>
<text transform="translate(274.9 549.8) rotate(-90)" text-anchor="middle">2.0</text>
<text x="364.65" y="722.3" text-anchor="middle">K</text>
<text transform="translate(252.7 612.35) rotate(-90)" text-anchor="middle">Density</text>
<rect x="288.9" y="544.8" width="67.7" height="22.5" fill="#fff" stroke="#000" stroke-width="1"/>
<text x="306" y="559.3">l(0<tspan dy="-4.3" dx="0.5" font-size="5.2px">o</tspan><tspan dy="4.3" dx="0.5">)/b(−8</tspan><tspan dy="-4.3" dx="0.5" font-size="5.2px">o</tspan><tspan dy="4.3" dx="0.5">)</tspan></text>
<text x="436" y="559.1" text-anchor="end">Disk<tspan dx="0.9" font-size="6.4px" stroke="#000" stroke-width="0.3">+</tspan><tspan dx="0.9">bulge</tspan></text>
</g>
<g>
<clipPath id="c22"><rect x="510.2" y="544.8" width="151.5" height="135.1"/></clipPath>
<line x1="510.2" y1="674.9" x2="661.7" y2="674.9" stroke="#d3d3d3" stroke-width="0.4"/>
<path clip-path="url(#c22)" d="M509.25 674.9 L509.75 674.9 L510.25 674.9 L510.75 674.9 L511.25 674.9 L511.75 674.9 L512.25 674.9 L512.75 674.9 L513.25 674.9 L513.75 674.9 L514.25 674.9 L514.75 674.9 L515.25 674.9 L515.75 674.9 L516.25 674.9 L516.75 674.9 L517.25 674.9 L517.75 674.9 L518.25 674.9 L518.75 674.9 L519.25 674.9 L519.75 674.9 L520.25 674.9 L520.75 674.9 L521.25 674.9 L521.75 674.9 L522.25 674.9 L522.75 674.9 L523.25 674.9 L523.75 674.9 L524.25 674.9 L524.75 674.9 L525.25 674.9 L525.75 674.9 L526.25 674.9 L526.75 674.9 L527.25 674.9 L527.75 674.9 L528.25 674.9 L528.75 674.9 L529.25 674.9 L529.75 674.9 L530.25 674.9 L530.75 674.9 L531.25 674.9 L531.75 674.9 L532.25 674.9 L532.75 674.9 L533.25 674.9 L533.75 674.87 L534.25 674.84 L534.75 674.8 L535.25 674.77 L535.75 674.73 L536.25 674.7 L536.75 674.65 L537.25 674.58 L537.75 674.49 L538.25 674.39 L538.75 674.28 L539.25 674.16 L539.75 674.03 L540.25 673.9 L540.75 673.75 L541.25 673.54 L541.75 673.28 L542.25 672.98 L542.75 672.65 L543.25 672.28 L543.75 671.89 L544.25 671.47 L544.75 670.95 L545.25 670.35 L545.75 669.66 L546.25 668.9 L546.75 668.08 L547.25 667.21 L547.75 666.29 L548.25 665.26 L548.75 664.12 L549.25 662.86 L549.75 661.46 L550.25 659.93 L550.75 658.3 L551.25 656.59 L551.75 654.8 L552.25 652.89 L552.75 650.85 L553.25 648.66 L553.75 646.41 L554.25 644.16 L554.75 641.91 L555.25 639.66 L555.75 637.41 L556.25 635.16 L556.75 632.91 L557.25 630.66 L557.75 628.41 L558.25 626.16 L558.75 623.91 L559.25 621.72 L559.75 619.67 L560.25 617.77 L560.75 615.97 L561.25 614.27 L561.75 612.66 L562.25 611.21 L562.75 609.98 L563.25 608.93 L563.75 608.04 L564.25 607.28 L564.75 606.63 L565.25 606.13 L565.75 605.8 L566.25 605.62 L566.75 605.56 L567.25 605.61 L567.75 605.77 L568.25 606.08 L568.75 606.58 L569.25 607.28 L569.75 608.16 L570.25 609.23 L570.75 610.5 L571.25 611.93 L571.75 613.4 L572.25 614.9 L572.75 616.44 L573.25 618.03 L573.75 619.65 L574.25 621.29 L574.75 622.94 L575.25 624.57 L575.75 626.17 L576.25 627.72 L576.75 629.2 L577.25 630.6 L577.75 631.93 L578.25 633.21 L578.75 634.42 L579.25 635.52 L579.75 636.51 L580.25 637.39 L580.75 638.17 L581.25 638.85 L581.75 639.46 L582.25 639.98 L582.75 640.43 L583.25 640.79 L583.75 641.06 L584.25 641.26 L584.75 641.38 L585.25 641.43 L585.75 641.38 L586.25 641.24 L586.75 641.02 L587.25 640.71 L587.75 640.32 L588.25 639.9 L588.75 639.42 L589.25 638.84 L589.75 638.13 L590.25 637.27 L590.75 636.4 L591.25 635.52 L591.75 634.65 L592.25 633.77 L592.75 632.9 L593.25 632.02 L593.75 631.15 L594.25 630.27 L594.75 629.4 L595.25 628.52 L595.75 627.65 L596.25 626.86 L596.75 626.18 L597.25 625.57 L597.75 625.01 L598.25 624.59 L598.75 624.37 L599.25 624.29 L599.75 624.28 L600.25 624.41 L600.75 624.73 L601.25 625.27 L601.75 626.04 L602.25 627.04 L602.75 628.33 L603.25 629.96 L603.75 631.8 L604.25 633.63 L604.75 635.46 L605.25 637.3 L605.75 639.13 L606.25 640.96 L606.75 642.8 L607.25 644.63 L607.75 646.49 L608.25 648.47 L608.75 650.52 L609.25 652.56 L609.75 654.53 L610.25 656.41 L610.75 658.2 L611.25 659.91 L611.75 661.55 L612.25 663.07 L612.75 664.44 L613.25 665.67 L613.75 666.8 L614.25 667.84 L614.75 668.8 L615.25 669.66 L615.75 670.42 L616.25 671.06 L616.75 671.65 L617.25 672.19 L617.75 672.66 L618.25 673.07 L618.75 673.39 L619.25 673.65 L619.75 673.89 L620.25 674.12 L620.75 674.32 L621.25 674.48 L621.75 674.61 L622.25 674.69 L622.75 674.73 L623.25 674.78 L623.75 674.81 L624.25 674.85 L624.75 674.88 L625.25 674.9 L625.75 674.9 L626.25 674.9 L626.75 674.9 L627.25 674.9 L627.75 674.9 L628.25 674.9 L628.75 674.9 L629.25 674.9 L629.75 674.9 L630.25 674.9 L630.75 674.9 L631.25 674.9 L631.75 674.9 L632.25 674.9 L632.75 674.9 L633.25 674.9 L633.75 674.9 L634.25 674.9 L634.75 674.9 L635.25 674.9 L635.75 674.9 L636.25 674.9 L636.75 674.9 L637.25 674.9 L637.75 674.9 L638.25 674.9 L638.75 674.9 L639.25 674.9 L639.75 674.9 L640.25 674.9 L640.75 674.9 L641.25 674.9 L641.75 674.9 L642.25 674.9 L642.75 674.9 L643.25 674.9 L643.75 674.9 L644.25 674.9 L644.75 674.9 L645.25 674.9 L645.75 674.9 L646.25 674.9 L646.75 674.9 L647.25 674.9 L647.75 674.9 L648.25 674.9 L648.75 674.9 L649.25 674.9 L649.75 674.9 L650.25 674.9 L650.75 674.9 L651.25 674.9 L651.75 674.9 L652.25 674.9 L652.75 674.9 L653.25 674.9 L653.75 674.9 L654.25 674.9 L654.75 674.9 L655.25 674.9 L655.75 674.9 L656.25 674.9 L656.75 674.9 L657.25 674.9 L657.75 674.9 L658.25 674.9 L658.75 674.9 L659.25 674.9 L659.75 674.9 L660.25 674.9 L660.75 674.9 L661.25 674.9 L661.75 674.9 L662.25 674.9" fill="none" stroke="#ff0000" stroke-width="2.05" stroke-linejoin="round" stroke-linecap="round"/>
<path clip-path="url(#c22)" d="M509.25 674.9 L509.75 674.9 L510.25 674.9 L510.75 674.9 L511.25 674.9 L511.75 674.9 L512.25 674.9 L512.75 674.9 L513.25 674.9 L513.75 674.9 L514.25 674.9 L514.75 674.9 L515.25 674.9 L515.75 674.9 L516.25 674.9 L516.75 674.9 L517.25 674.9 L517.75 674.9 L518.25 674.9 L518.75 674.9 L519.25 674.9 L519.75 674.9 L520.25 674.9 L520.75 674.9 L521.25 674.9 L521.75 674.9 L522.25 674.9 L522.75 674.9 L523.25 674.9 L523.75 674.9 L524.25 674.9 L524.75 674.9 L525.25 674.9 L525.75 674.9 L526.25 674.9 L526.75 674.9 L527.25 674.9 L527.75 674.9 L528.25 674.9 L528.75 674.9 L529.25 674.9 L529.75 674.9 L530.25 674.9 L530.75 674.9 L531.25 674.9 L531.75 674.9 L532.25 674.9 L532.75 674.9 L533.25 674.9 L533.75 674.9 L534.25 674.9 L534.75 674.9 L535.25 674.88 L535.75 674.84 L536.25 674.8 L536.75 674.77 L537.25 674.73 L537.75 674.69 L538.25 674.63 L538.75 674.56 L539.25 674.48 L539.75 674.37 L540.25 674.26 L540.75 674.13 L541.25 673.99 L541.75 673.83 L542.25 673.67 L542.75 673.49 L543.25 673.25 L543.75 672.96 L544.25 672.61 L544.75 672.22 L545.25 671.79 L545.75 671.33 L546.25 670.85 L546.75 670.3 L547.25 669.69 L547.75 669.02 L548.25 668.29 L548.75 667.52 L549.25 666.69 L549.75 665.83 L550.25 664.9 L550.75 663.89 L551.25 662.79 L551.75 661.58 L552.25 660.26 L552.75 658.82 L553.25 657.3 L553.75 655.72 L554.25 654.07 L554.75 652.36 L555.25 650.6 L555.75 648.78 L556.25 646.89 L556.75 644.97 L557.25 643.06 L557.75 641.19 L558.25 639.39 L558.75 637.66 L559.25 635.99 L559.75 634.37 L560.25 632.8 L560.75 631.26 L561.25 629.76 L561.75 628.35 L562.25 627.03 L562.75 625.8 L563.25 624.67 L563.75 623.63 L564.25 622.71 L564.75 621.89 L565.25 621.19 L565.75 620.58 L566.25 620.07 L566.75 619.64 L567.25 619.24 L567.75 618.9 L568.25 618.62 L568.75 618.42 L569.25 618.33 L569.75 618.35 L570.25 618.39 L570.75 618.46 L571.25 618.56 L571.75 618.7 L572.25 618.88 L572.75 619.1 L573.25 619.32 L573.75 619.54 L574.25 619.77 L574.75 619.99 L575.25 620.21 L575.75 620.42 L576.25 620.63 L576.75 620.84 L577.25 621.04 L577.75 621.25 L578.25 621.45 L578.75 621.65 L579.25 621.85 L579.75 622.03 L580.25 622.22 L580.75 622.38 L581.25 622.54 L581.75 622.68 L582.25 622.81 L582.75 622.93 L583.25 623.05 L583.75 623.16 L584.25 623.27 L584.75 623.38 L585.25 623.47 L585.75 623.56 L586.25 623.64 L586.75 623.71 L587.25 623.78 L587.75 623.84 L588.25 623.9 L588.75 623.94 L589.25 623.96 L589.75 623.95 L590.25 623.92 L590.75 623.84 L591.25 623.73 L591.75 623.57 L592.25 623.39 L592.75 623.19 L593.25 622.98 L593.75 622.76 L594.25 622.52 L594.75 622.26 L595.25 622 L595.75 621.74 L596.25 621.5 L596.75 621.28 L597.25 621.11 L597.75 620.98 L598.25 620.88 L598.75 620.81 L599.25 620.77 L599.75 620.74 L600.25 620.84 L600.75 621.13 L601.25 621.56 L601.75 622.11 L602.25 622.83 L602.75 623.79 L603.25 625 L603.75 626.41 L604.25 627.91 L604.75 629.52 L605.25 631.22 L605.75 632.92 L606.25 634.66 L606.75 636.49 L607.25 638.46 L607.75 640.46 L608.25 642.46 L608.75 644.46 L609.25 646.46 L609.75 648.46 L610.25 650.46 L610.75 652.46 L611.25 654.46 L611.75 656.38 L612.25 658.12 L612.75 659.73 L613.25 661.24 L613.75 662.7 L614.25 664.05 L614.75 665.31 L615.25 666.49 L615.75 667.59 L616.25 668.62 L616.75 669.56 L617.25 670.39 L617.75 671.09 L618.25 671.7 L618.75 672.25 L619.25 672.72 L619.75 673.12 L620.25 673.43 L620.75 673.67 L621.25 673.89 L621.75 674.09 L622.25 674.28 L622.75 674.44 L623.25 674.57 L623.75 674.67 L624.25 674.72 L624.75 674.76 L625.25 674.8 L625.75 674.84 L626.25 674.88 L626.75 674.9 L627.25 674.9 L627.75 674.9 L628.25 674.9 L628.75 674.9 L629.25 674.9 L629.75 674.9 L630.25 674.9 L630.75 674.9 L631.25 674.9 L631.75 674.9 L632.25 674.9 L632.75 674.9 L633.25 674.9 L633.75 674.9 L634.25 674.9 L634.75 674.9 L635.25 674.9 L635.75 674.9 L636.25 674.9 L636.75 674.9 L637.25 674.9 L637.75 674.9 L638.25 674.9 L638.75 674.9 L639.25 674.9 L639.75 674.9 L640.25 674.9 L640.75 674.9 L641.25 674.9 L641.75 674.9 L642.25 674.9 L642.75 674.9 L643.25 674.9 L643.75 674.9 L644.25 674.9 L644.75 674.9 L645.25 674.9 L645.75 674.9 L646.25 674.9 L646.75 674.9 L647.25 674.9 L647.75 674.9 L648.25 674.9 L648.75 674.9 L649.25 674.9 L649.75 674.9 L650.25 674.9 L650.75 674.9 L651.25 674.9 L651.75 674.9 L652.25 674.9 L652.75 674.9 L653.25 674.9 L653.75 674.9 L654.25 674.9 L654.75 674.9 L655.25 674.9 L655.75 674.9 L656.25 674.9 L656.75 674.9 L657.25 674.9 L657.75 674.9 L658.25 674.9 L658.75 674.9 L659.25 674.9 L659.75 674.9 L660.25 674.9 L660.75 674.9 L661.25 674.9 L661.75 674.9 L662.25 674.9" fill="none" stroke="#000000" stroke-width="2.05" stroke-linejoin="round" stroke-linecap="round"/>
<path clip-path="url(#c22)" d="M509.25 674.9 L509.75 674.9 L510.25 674.9 L510.75 674.9 L511.25 674.9 L511.75 674.9 L512.25 674.9 L512.75 674.9 L513.25 674.9 L513.75 674.9 L514.25 674.9 L514.75 674.9 L515.25 674.9 L515.75 674.9 L516.25 674.9 L516.75 674.9 L517.25 674.9 L517.75 674.9 L518.25 674.9 L518.75 674.9 L519.25 674.9 L519.75 674.9 L520.25 674.9 L520.75 674.9 L521.25 674.9 L521.75 674.9 L522.25 674.9 L522.75 674.9 L523.25 674.9 L523.75 674.9 L524.25 674.9 L524.75 674.9 L525.25 674.9 L525.75 674.9 L526.25 674.9 L526.75 674.9 L527.25 674.9 L527.75 674.9 L528.25 674.9 L528.75 674.9 L529.25 674.9 L529.75 674.9 L530.25 674.9 L530.75 674.9 L531.25 674.9 L531.75 674.9 L532.25 674.9 L532.75 674.9 L533.25 674.9 L533.75 674.9 L534.25 674.9 L534.75 674.9 L535.25 674.88 L535.75 674.86 L536.25 674.84 L536.75 674.81 L537.25 674.79 L537.75 674.76 L538.25 674.74 L538.75 674.71 L539.25 674.69 L539.75 674.65 L540.25 674.61 L540.75 674.55 L541.25 674.49 L541.75 674.42 L542.25 674.33 L542.75 674.25 L543.25 674.15 L543.75 674.05 L544.25 673.94 L544.75 673.83 L545.25 673.69 L545.75 673.52 L546.25 673.3 L546.75 673.06 L547.25 672.79 L547.75 672.5 L548.25 672.18 L548.75 671.84 L549.25 671.48 L549.75 671.09 L550.25 670.66 L550.75 670.2 L551.25 669.7 L551.75 669.17 L552.25 668.6 L552.75 668 L553.25 667.36 L553.75 666.69 L554.25 666 L554.75 665.29 L555.25 664.56 L555.75 663.8 L556.25 663.01 L556.75 662.2 L557.25 661.37 L557.75 660.52 L558.25 659.66 L558.75 658.78 L559.25 657.88 L559.75 656.97 L560.25 656.04 L560.75 655.09 L561.25 654.12 L561.75 653.13 L562.25 652.13 L562.75 651.12 L563.25 650.09 L563.75 649.05 L564.25 647.97 L564.75 646.86 L565.25 645.7 L565.75 644.5 L566.25 643.25 L566.75 642 L567.25 640.75 L567.75 639.5 L568.25 638.25 L568.75 637 L569.25 635.75 L569.75 634.5 L570.25 633.25 L570.75 632 L571.25 630.75 L571.75 629.5 L572.25 628.25 L572.75 627 L573.25 625.75 L573.75 624.5 L574.25 623.25 L574.75 622.02 L575.25 620.88 L575.75 619.82 L576.25 618.83 L576.75 617.88 L577.25 616.99 L577.75 616.12 L578.25 615.27 L578.75 614.44 L579.25 613.65 L579.75 612.9 L580.25 612.21 L580.75 611.59 L581.25 611.05 L581.75 610.58 L582.25 610.14 L582.75 609.7 L583.25 609.27 L583.75 608.83 L584.25 608.4 L584.75 607.96 L585.25 607.51 L585.75 607.05 L586.25 606.6 L586.75 606.14 L587.25 605.68 L587.75 605.22 L588.25 604.75 L588.75 604.27 L589.25 603.7 L589.75 603.05 L590.25 602.37 L590.75 601.7 L591.25 601.08 L591.75 600.54 L592.25 600.06 L592.75 599.64 L593.25 599.26 L593.75 598.91 L594.25 598.62 L594.75 598.44 L595.25 598.36 L595.75 598.36 L596.25 598.51 L596.75 598.8 L597.25 599.19 L597.75 599.66 L598.25 600.28 L598.75 601.06 L599.25 602.01 L599.75 603.14 L600.25 604.46 L600.75 605.98 L601.25 607.74 L601.75 609.77 L602.25 612 L602.75 614.28 L603.25 616.61 L603.75 619.02 L604.25 621.52 L604.75 624.02 L605.25 626.52 L605.75 629.02 L606.25 631.52 L606.75 634.02 L607.25 636.52 L607.75 639.02 L608.25 641.52 L608.75 643.95 L609.25 646.3 L609.75 648.59 L610.25 650.85 L610.75 653.05 L611.25 655.12 L611.75 657.09 L612.25 658.96 L612.75 660.74 L613.25 662.37 L613.75 663.86 L614.25 665.23 L614.75 666.49 L615.25 667.66 L615.75 668.71 L616.25 669.62 L616.75 670.38 L617.25 671.03 L617.75 671.63 L618.25 672.16 L618.75 672.61 L619.25 672.98 L619.75 673.26 L620.25 673.52 L620.75 673.77 L621.25 674 L621.75 674.21 L622.25 674.38 L622.75 674.5 L623.25 674.59 L623.75 674.66 L624.25 674.72 L624.75 674.78 L625.25 674.84 L625.75 674.89 L626.25 674.9 L626.75 674.9 L627.25 674.9 L627.75 674.9 L628.25 674.9 L628.75 674.9 L629.25 674.9 L629.75 674.9 L630.25 674.9 L630.75 674.9 L631.25 674.9 L631.75 674.9 L632.25 674.9 L632.75 674.9 L633.25 674.9 L633.75 674.9 L634.25 674.9 L634.75 674.9 L635.25 674.9 L635.75 674.9 L636.25 674.9 L636.75 674.9 L637.25 674.9 L637.75 674.9 L638.25 674.9 L638.75 674.9 L639.25 674.9 L639.75 674.9 L640.25 674.9 L640.75 674.9 L641.25 674.9 L641.75 674.9 L642.25 674.9 L642.75 674.9 L643.25 674.9 L643.75 674.9 L644.25 674.9 L644.75 674.9 L645.25 674.9 L645.75 674.9 L646.25 674.9 L646.75 674.9 L647.25 674.9 L647.75 674.9 L648.25 674.9 L648.75 674.9 L649.25 674.9 L649.75 674.9 L650.25 674.9 L650.75 674.9 L651.25 674.9 L651.75 674.9 L652.25 674.9 L652.75 674.9 L653.25 674.9 L653.75 674.9 L654.25 674.9 L654.75 674.9 L655.25 674.9 L655.75 674.9 L656.25 674.9 L656.75 674.9 L657.25 674.9 L657.75 674.9 L658.25 674.9 L658.75 674.9 L659.25 674.9 L659.75 674.9 L660.25 674.9 L660.75 674.9 L661.25 674.9 L661.75 674.9 L662.25 674.9" fill="none" stroke="#0000ff" stroke-width="2.05" stroke-linejoin="round" stroke-linecap="round"/>
<rect x="510.2" y="544.8" width="151.5" height="135.1" fill="none" stroke="#000" stroke-width="1"/>
<path d="M515.81 679.9H656.09M515.81 679.9v6.3M539.19 679.9v6.3M562.57 679.9v6.3M585.95 679.9v6.3M609.33 679.9v6.3M632.71 679.9v6.3M656.09 679.9v6.3M510.2 674.9V549.8M510.2 674.9h-6.3M510.2 643.62h-6.3M510.2 612.35h-6.3M510.2 581.08h-6.3M510.2 549.8h-6.3" fill="none" stroke="#000" stroke-width="1"/>
<text x="515.81" y="700.1" text-anchor="middle">11.5</text>
<text x="562.57" y="700.1" text-anchor="middle">12.5</text>
<text x="609.33" y="700.1" text-anchor="middle">13.5</text>
<text x="656.09" y="700.1" text-anchor="middle">14.5</text>
<text transform="translate(496.2 674.9) rotate(-90)" text-anchor="middle">0.0</text>
<text transform="translate(496.2 643.62) rotate(-90)" text-anchor="middle">0.5</text>
<text transform="translate(496.2 612.35) rotate(-90)" text-anchor="middle">1.0</text>
<text transform="translate(496.2 581.08) rotate(-90)" text-anchor="middle">1.5</text>
<text transform="translate(496.2 549.8) rotate(-90)" text-anchor="middle">2.0</text>
<text x="585.95" y="720" text-anchor="middle">K<tspan dy="2.6" font-size="7.2px">0</tspan></text>
<text transform="translate(474 612.35) rotate(-90)" text-anchor="middle">Density</text>
<rect x="510.2" y="544.8" width="75.4" height="22.5" fill="#fff" stroke="#000" stroke-width="1"/>
<text x="527.3" y="559.3">l(0<tspan dy="-4.3" dx="0.5" font-size="5.2px">o</tspan><tspan dy="4.3" dx="0.5">)/b(−7.5</tspan><tspan dy="-4.3" dx="0.5" font-size="5.2px">o</tspan><tspan dy="4.3" dx="0.5">)</tspan></text>
<text x="657.3" y="559.1" text-anchor="end">ARGOS</text>
</g>
<g>
<clipPath id="c30"><rect x="67.6" y="783.95" width="151.5" height="135.1"/></clipPath>
<line x1="67.6" y1="914.05" x2="219.1" y2="914.05" stroke="#d3d3d3" stroke-width="0.4"/>
<path clip-path="url(#c30)" d="M87.75 914.05 L88.25 914.05 L88.75 914.05 L89.25 914.05 L89.75 914.05 L90.25 914.05 L90.75 914 L91.25 913.91 L91.75 913.8 L92.25 913.67 L92.75 913.52 L93.25 913.34 L93.75 913.14 L94.25 912.92 L94.75 912.67 L95.25 912.4 L95.75 912.1 L96.25 911.78 L96.75 911.43 L97.25 911.06 L97.75 910.66 L98.25 910.24 L98.75 909.79 L99.25 909.32 L99.75 908.83 L100.25 908.32 L100.75 907.78 L101.25 907.24 L101.75 906.67 L102.25 906.08 L102.75 905.45 L103.25 904.79 L103.75 904.09 L104.25 903.36 L104.75 902.61 L105.25 901.84 L105.75 901.05 L106.25 900.19 L106.75 899.27 L107.25 898.29 L107.75 897.25 L108.25 896.16 L108.75 895.02 L109.25 893.82 L109.75 892.54 L110.25 891.17 L110.75 889.71 L111.25 888.16 L111.75 886.54 L112.25 884.83 L112.75 883.05 L113.25 881.2 L113.75 879.29 L114.25 877.32 L114.75 875.29 L115.25 873.21 L115.75 871.08 L116.25 868.9 L116.75 866.67 L117.25 864.38 L117.75 862.02 L118.25 859.58 L118.75 857.04 L119.25 854.37 L119.75 851.53 L120.25 848.59 L120.75 845.62 L121.25 842.69 L121.75 839.88 L122.25 837.18 L122.75 834.58 L123.25 832.05 L123.75 829.61 L124.25 827.24 L124.75 824.98 L125.25 822.96 L125.75 821.22 L126.25 819.76 L126.75 818.55 L127.25 817.59 L127.75 816.85 L128.25 816.33 L128.75 815.99 L129.25 815.79 L129.75 815.73 L130.25 815.83 L130.75 816.09 L131.25 816.54 L131.75 817.2 L132.25 818.11 L132.75 819.23 L133.25 820.55 L133.75 822.09 L134.25 823.77 L134.75 825.52 L135.25 827.37 L135.75 829.34 L136.25 831.44 L136.75 833.62 L137.25 835.83 L137.75 838 L138.25 840.1 L138.75 842.14 L139.25 844.14 L139.75 846.11 L140.25 848.05 L140.75 849.9 L141.25 851.62 L141.75 853.22 L142.25 854.69 L142.75 856.02 L143.25 857.18 L143.75 858.14 L144.25 858.86 L144.75 859.37 L145.25 859.87 L145.75 860.37 L146.25 860.87 L146.75 861.37 L147.25 861.87 L147.75 862.37 L148.25 862.87 L148.75 863.37 L149.25 863.87 L149.75 864.37 L150.25 864.88 L150.75 865.55 L151.25 866.35 L151.75 867.23 L152.25 868.18 L152.75 869.35 L153.25 870.82 L153.75 872.65 L154.25 874.91 L154.75 877.52 L155.25 880.31 L155.75 883.08 L156.25 885.66 L156.75 888.12 L157.25 890.52 L157.75 892.82 L158.25 894.99 L158.75 896.93 L159.25 898.59 L159.75 899.99 L160.25 901.18 L160.75 902.2 L161.25 903.14 L161.75 903.94 L162.25 904.54 L162.75 904.92 L163.25 905.25 L163.75 905.56 L164.25 905.86 L164.75 906.15 L165.25 906.42 L165.75 906.67 L166.25 906.89 L166.75 907.1 L167.25 907.31 L167.75 907.53 L168.25 907.78 L168.75 908.07 L169.25 908.42 L169.75 908.85 L170.25 909.32 L170.75 909.81 L171.25 910.29 L171.75 910.73 L172.25 911.15 L172.75 911.56 L173.25 911.96 L173.75 912.33 L174.25 912.66 L174.75 912.94 L175.25 913.17 L175.75 913.36 L176.25 913.5 L176.75 913.62 L177.25 913.71 L177.75 913.79 L178.25 913.86 L178.75 913.93 L179.25 913.99 L179.75 914.04 L180.25 914.05 L180.75 914.05 L181.25 914.05" fill="none" stroke="#ff0000" stroke-width="2.05" stroke-linejoin="round" stroke-linecap="round"/>
<path clip-path="url(#c30)" d="M84.21 914.05 L84.71 914.05 L85.21 914.05 L85.71 914.05 L86.21 914.05 L86.71 914.05 L87.21 914.05 L87.71 913.95 L88.21 913.76 L88.71 913.53 L89.21 913.25 L89.71 912.94 L90.21 912.58 L90.71 912.18 L91.21 911.73 L91.71 911.23 L92.21 910.66 L92.71 910.02 L93.21 909.31 L93.71 908.55 L94.21 907.77 L94.71 906.99 L95.21 906.24 L95.71 905.54 L96.21 904.88 L96.71 904.23 L97.21 903.61 L97.71 903.01 L98.21 902.42 L98.71 901.89 L99.21 901.52 L99.71 901.24 L100.21 900.97 L100.71 900.62 L101.21 900.1 L101.71 899.43 L102.21 898.67 L102.71 897.83 L103.21 896.89 L103.71 895.87 L104.21 894.76 L104.71 893.64 L105.21 892.51 L105.71 891.39 L106.21 890.26 L106.71 889.14 L107.21 888.01 L107.71 886.89 L108.21 885.76 L108.71 884.64 L109.21 883.51 L109.71 882.39 L110.21 881.25 L110.71 880.05 L111.21 878.7 L111.71 877.14 L112.21 875.3 L112.71 873.11 L113.21 870.63 L113.71 867.94 L114.21 865.1 L114.71 862.18 L115.21 859.25 L115.71 856.33 L116.21 853.28 L116.71 850.16 L117.21 847.07 L117.71 844.09 L118.21 841.29 L118.71 838.81 L119.21 836.68 L119.71 834.82 L120.21 833.16 L120.71 831.65 L121.21 830.21 L121.71 828.81 L122.21 827.47 L122.71 826.21 L123.21 825.03 L123.71 823.94 L124.21 822.97 L124.71 822.11 L125.21 821.38 L125.71 820.79 L126.21 820.38 L126.71 820.16 L127.21 820.08 L127.71 820.12 L128.21 820.4 L128.71 820.91 L129.21 821.66 L129.71 822.68 L130.21 824.1 L130.71 826.01 L131.21 828.47 L131.71 831.06 L132.21 833.72 L132.71 836.45 L133.21 839.24 L133.71 842.07 L134.21 844.91 L134.71 847.75 L135.21 850.58 L135.71 853.35 L136.21 856.07 L136.71 858.71 L137.21 861.28 L137.71 863.64 L138.21 865.56 L138.71 867.11 L139.21 868.39 L139.71 869.5 L140.21 870.47 L140.71 871.28 L141.21 871.89 L141.71 872.29 L142.21 872.59 L142.71 872.78 L143.21 872.78 L143.71 872.64 L144.21 872.47 L144.71 872.26 L145.21 872.01 L145.71 871.72 L146.21 871.41 L146.71 871.1 L147.21 870.79 L147.71 870.49 L148.21 870.23 L148.71 870.02 L149.21 869.86 L149.71 869.73 L150.21 869.63 L150.71 869.64 L151.21 869.81 L151.71 870.13 L152.21 870.59 L152.71 871.18 L153.21 871.98 L153.71 873.02 L154.21 874.32 L154.71 875.89 L155.21 877.64 L155.71 879.44 L156.21 881.29 L156.71 883.19 L157.21 885.14 L157.71 887.16 L158.21 889.19 L158.71 891.19 L159.21 893.13 L159.71 894.96 L160.21 896.66 L160.71 898.23 L161.21 899.63 L161.71 900.86 L162.21 901.92 L162.71 902.82 L163.21 903.59 L163.71 904.29 L164.21 904.97 L164.71 905.62 L165.21 906.23 L165.71 906.8 L166.21 907.32 L166.71 907.81 L167.21 908.29 L167.71 908.77 L168.21 909.23 L168.71 909.67 L169.21 910.1 L169.71 910.52 L170.21 910.92 L170.71 911.32 L171.21 911.69 L171.71 912.04 L172.21 912.36 L172.71 912.64 L173.21 912.87 L173.71 913.07 L174.21 913.23 L174.71 913.38 L175.21 913.5 L175.71 913.6 L176.21 913.69 L176.71 913.76 L177.21 913.82 L177.71 913.88 L178.21 913.93 L178.71 913.98 L179.21 914.02 L179.71 914.05 L180.21 914.05 L180.71 914.05 L181.21 914.05 L181.71 914.05 L182.21 914.05" fill="none" stroke="#000000" stroke-width="2.05" stroke-linejoin="round" stroke-linecap="round"/>
<path clip-path="url(#c30)" d="M77.83 914.05 L78.33 914.05 L78.83 914.05 L79.33 914.05 L79.83 914.05 L80.33 914.05 L80.83 913.98 L81.33 913.84 L81.83 913.67 L82.33 913.47 L82.83 913.26 L83.33 913 L83.83 912.68 L84.33 912.28 L84.83 911.82 L85.33 911.29 L85.83 910.69 L86.33 910.02 L86.83 909.25 L87.33 908.36 L87.83 907.31 L88.33 906.1 L88.83 904.69 L89.33 903.09 L89.83 901.41 L90.33 899.69 L90.83 897.95 L91.33 896.16 L91.83 894.34 L92.33 892.48 L92.83 890.6 L93.33 888.72 L93.83 886.83 L94.33 884.95 L94.83 883.1 L95.33 881.27 L95.83 879.48 L96.33 877.72 L96.83 875.99 L97.33 874.29 L97.83 872.64 L98.33 871.08 L98.83 869.63 L99.33 868.27 L99.83 867 L100.33 865.78 L100.83 864.63 L101.33 863.53 L101.83 862.48 L102.33 861.5 L102.83 860.58 L103.33 859.73 L103.83 858.93 L104.33 858.15 L104.83 857.4 L105.33 856.69 L105.83 856.02 L106.33 855.4 L106.83 854.82 L107.33 854.28 L107.83 853.76 L108.33 853.26 L108.83 852.8 L109.33 852.36 L109.83 851.95 L110.33 851.58 L110.83 851.23 L111.33 850.91 L111.83 850.61 L112.33 850.33 L112.83 850.06 L113.33 849.82 L113.83 849.59 L114.33 849.39 L114.83 849.22 L115.33 849.08 L115.83 848.98 L116.33 848.89 L116.83 848.82 L117.33 848.83 L117.83 848.92 L118.33 849.1 L118.83 849.35 L119.33 849.7 L119.83 850.21 L120.33 850.85 L120.83 851.61 L121.33 852.47 L121.83 853.41 L122.33 854.44 L122.83 855.58 L123.33 856.84 L123.83 858.22 L124.33 859.7 L124.83 861.24 L125.33 862.83 L125.83 864.48 L126.33 866.21 L126.83 868.01 L127.33 869.87 L127.83 871.76 L128.33 873.66 L128.83 875.55 L129.33 877.41 L129.83 879.25 L130.33 881.05 L130.83 882.83 L131.33 884.57 L131.83 886.28 L132.33 887.96 L132.83 889.53 L133.33 890.93 L133.83 892.19 L134.33 893.34 L134.83 894.4 L135.33 895.41 L135.83 896.35 L136.33 897.2 L136.83 897.96 L137.33 898.63 L137.83 899.2 L138.33 899.66 L138.83 900 L139.33 900.23 L139.83 900.35 L140.33 900.39 L140.83 900.32 L141.33 900.12 L141.83 899.8 L142.33 899.34 L142.83 898.78 L143.33 898.12 L143.83 897.32 L144.33 896.35 L144.83 895.19 L145.33 893.82 L145.83 892.38 L146.33 890.91 L146.83 889.4 L147.33 887.86 L147.83 886.3 L148.33 884.7 L148.83 883.07 L149.33 881.42 L149.83 879.77 L150.33 878.15 L150.83 876.57 L151.33 875.09 L151.83 873.72 L152.33 872.47 L152.83 871.3 L153.33 870.22 L153.83 869.22 L154.33 868.34 L154.83 867.58 L155.33 866.93 L155.83 866.38 L156.33 865.92 L156.83 865.55 L157.33 865.3 L157.83 865.15 L158.33 865.11 L158.83 865.16 L159.33 865.32 L159.83 865.59 L160.33 865.98 L160.83 866.48 L161.33 867.1 L161.83 867.87 L162.33 868.81 L162.83 869.96 L163.33 871.33 L163.83 872.82 L164.33 874.36 L164.83 875.97 L165.33 877.64 L165.83 879.39 L166.33 881.22 L166.83 883.09 L167.33 884.98 L167.83 886.87 L168.33 888.76 L168.83 890.62 L169.33 892.44 L169.83 894.24 L170.33 896 L170.83 897.74 L171.33 899.44 L171.83 901.11 L172.33 902.65 L172.83 904.02 L173.33 905.26 L173.83 906.39 L174.33 907.42 L174.83 908.38 L175.33 909.27 L175.83 910.08 L176.33 910.78 L176.83 911.36 L177.33 911.81 L177.83 912.15 L178.33 912.48 L178.83 912.77 L179.33 913.03 L179.83 913.25 L180.33 913.42 L180.83 913.54 L181.33 913.62 L181.83 913.69 L182.33 913.76 L182.83 913.83 L183.33 913.89 L183.83 913.94 L184.33 913.98 L184.83 914.01 L185.33 914.03 L185.83 914.05 L186.33 914.05 L186.83 914.05 L187.33 914.05" fill="none" stroke="#0000ff" stroke-width="2.05" stroke-linejoin="round" stroke-linecap="round"/>
<rect x="67.6" y="783.95" width="151.5" height="135.1" fill="none" stroke="#000" stroke-width="1"/>
<path d="M73.21 919.05H213.49M73.21 919.05v6.3M96.59 919.05v6.3M119.97 919.05v6.3M143.35 919.05v6.3M166.73 919.05v6.3M190.11 919.05v6.3M213.49 919.05v6.3M67.6 914.05V809.8M67.6 914.05h-6.3M67.6 879.3h-6.3M67.6 844.55h-6.3M67.6 809.8h-6.3" fill="none" stroke="#000" stroke-width="1"/>
<text x="73.21" y="939.25" text-anchor="middle">11.5</text>
<text x="119.97" y="939.25" text-anchor="middle">12.5</text>
<text x="166.73" y="939.25" text-anchor="middle">13.5</text>
<text x="213.49" y="939.25" text-anchor="middle">14.5</text>
<text transform="translate(53.6 914.05) rotate(-90)" text-anchor="middle">0.0</text>
<text transform="translate(53.6 879.3) rotate(-90)" text-anchor="middle">0.5</text>
<text transform="translate(53.6 844.55) rotate(-90)" text-anchor="middle">1.0</text>
<text transform="translate(53.6 809.8) rotate(-90)" text-anchor="middle">1.5</text>
<text x="143.35" y="961.45" text-anchor="middle">K</text>
<text transform="translate(31.4 851.5) rotate(-90)" text-anchor="middle">Density</text>
<rect x="67.6" y="783.95" width="73" height="22.5" fill="#fff" stroke="#000" stroke-width="1"/>
<text x="84.7" y="798.45">l(0<tspan dy="-4.3" dx="0.5" font-size="5.2px">o</tspan><tspan dy="4.3" dx="0.5">)/b(−10</tspan><tspan dy="-4.3" dx="0.5" font-size="5.2px">o</tspan><tspan dy="4.3" dx="0.5">)</tspan></text>
<text x="214.7" y="798.25" text-anchor="end">Disk only</text>
</g>
<g>
<clipPath id="c31"><rect x="288.9" y="783.95" width="151.5" height="135.1"/></clipPath>
<line x1="288.9" y1="914.05" x2="440.4" y2="914.05" stroke="#d3d3d3" stroke-width="0.4"/>
<path clip-path="url(#c31)" d="M308.75 914.05 L309.25 914.05 L309.75 914.05 L310.25 914.05 L310.75 914.05 L311.25 914.02 L311.75 913.95 L312.25 913.86 L312.75 913.76 L313.25 913.63 L313.75 913.49 L314.25 913.33 L314.75 913.16 L315.25 912.96 L315.75 912.73 L316.25 912.49 L316.75 912.22 L317.25 911.94 L317.75 911.63 L318.25 911.3 L318.75 910.95 L319.25 910.58 L319.75 910.19 L320.25 909.78 L320.75 909.34 L321.25 908.88 L321.75 908.4 L322.25 907.89 L322.75 907.37 L323.25 906.81 L323.75 906.22 L324.25 905.58 L324.75 904.92 L325.25 904.24 L325.75 903.53 L326.25 902.81 L326.75 902.08 L327.25 901.3 L327.75 900.48 L328.25 899.61 L328.75 898.71 L329.25 897.76 L329.75 896.78 L330.25 895.75 L330.75 894.62 L331.25 893.38 L331.75 892.05 L332.25 890.64 L332.75 889.14 L333.25 887.58 L333.75 885.95 L334.25 884.25 L334.75 882.48 L335.25 880.63 L335.75 878.7 L336.25 876.69 L336.75 874.61 L337.25 872.44 L337.75 870.22 L338.25 867.93 L338.75 865.56 L339.25 863.12 L339.75 860.58 L340.25 857.94 L340.75 855.21 L341.25 852.42 L341.75 849.62 L342.25 846.84 L342.75 844.13 L343.25 841.48 L343.75 838.9 L344.25 836.39 L344.75 833.93 L345.25 831.53 L345.75 829.21 L346.25 827.17 L346.75 825.44 L347.25 824 L347.75 822.8 L348.25 821.84 L348.75 821.09 L349.25 820.57 L349.75 820.25 L350.25 820.06 L350.75 820 L351.25 820.08 L351.75 820.29 L352.25 820.65 L352.75 821.21 L353.25 822 L353.75 822.96 L354.25 824.15 L354.75 825.63 L355.25 827.3 L355.75 828.96 L356.25 830.63 L356.75 832.3 L357.25 833.96 L357.75 835.63 L358.25 837.3 L358.75 838.96 L359.25 840.62 L359.75 842.19 L360.25 843.69 L360.75 845.13 L361.25 846.54 L361.75 847.88 L362.25 849.12 L362.75 850.22 L363.25 851.18 L363.75 852.03 L364.25 852.83 L364.75 853.59 L365.25 854.31 L365.75 855 L366.25 855.66 L366.75 856.29 L367.25 856.9 L367.75 857.51 L368.25 858.12 L368.75 858.76 L369.25 859.44 L369.75 860.16 L370.25 860.91 L370.75 861.68 L371.25 862.45 L371.75 863.23 L372.25 864.07 L372.75 865.05 L373.25 866.22 L373.75 867.75 L374.25 869.62 L374.75 871.81 L375.25 874.28 L375.75 877.08 L376.25 880.06 L376.75 882.99 L377.25 885.67 L377.75 888.19 L378.25 890.6 L378.75 892.88 L379.25 894.99 L379.75 896.89 L380.25 898.54 L380.75 899.97 L381.25 901.17 L381.75 902.2 L382.25 903.14 L382.75 903.94 L383.25 904.54 L383.75 904.92 L384.25 905.25 L384.75 905.56 L385.25 905.86 L385.75 906.15 L386.25 906.42 L386.75 906.67 L387.25 906.89 L387.75 907.1 L388.25 907.31 L388.75 907.53 L389.25 907.78 L389.75 908.07 L390.25 908.42 L390.75 908.85 L391.25 909.32 L391.75 909.81 L392.25 910.29 L392.75 910.73 L393.25 911.15 L393.75 911.56 L394.25 911.96 L394.75 912.33 L395.25 912.66 L395.75 912.94 L396.25 913.17 L396.75 913.36 L397.25 913.5 L397.75 913.62 L398.25 913.71 L398.75 913.79 L399.25 913.86 L399.75 913.93 L400.25 913.99 L400.75 914.04 L401.25 914.05 L401.75 914.05 L402.25 914.05" fill="none" stroke="#ff0000" stroke-width="2.05" stroke-linejoin="round" stroke-linecap="round"/>
<path clip-path="url(#c31)" d="M305.21 914.05 L305.71 914.05 L306.21 914.05 L306.71 914.05 L307.21 914.05 L307.71 914.05 L308.21 914.05 L308.71 913.99 L309.21 913.79 L309.71 913.55 L310.21 913.25 L310.71 912.91 L311.21 912.52 L311.71 912.1 L312.21 911.64 L312.71 911.14 L313.21 910.6 L313.71 910.02 L314.21 909.38 L314.71 908.68 L315.21 907.97 L315.71 907.26 L316.21 906.6 L316.71 906 L317.21 905.45 L317.71 904.93 L318.21 904.44 L318.71 903.97 L319.21 903.51 L319.71 903.09 L320.21 902.76 L320.71 902.49 L321.21 902.23 L321.71 901.92 L322.21 901.52 L322.71 901.02 L323.21 900.43 L323.71 899.74 L324.21 898.93 L324.71 897.98 L325.21 896.89 L325.71 895.76 L326.21 894.64 L326.71 893.51 L327.21 892.39 L327.71 891.26 L328.21 890.14 L328.71 889.01 L329.21 887.89 L329.71 886.76 L330.21 885.64 L330.71 884.51 L331.21 883.36 L331.71 882.14 L332.21 880.83 L332.71 879.41 L333.21 877.85 L333.71 876.11 L334.21 874.03 L334.71 871.63 L335.21 869.01 L335.71 866.26 L336.21 863.47 L336.71 860.63 L337.21 857.58 L337.71 854.42 L338.21 851.27 L338.71 848.27 L339.21 845.54 L339.71 843.11 L340.21 840.91 L340.71 838.89 L341.21 837.04 L341.71 835.31 L342.21 833.69 L342.71 832.12 L343.21 830.63 L343.71 829.23 L344.21 827.94 L344.71 826.79 L345.21 825.78 L345.71 824.9 L346.21 824.14 L346.71 823.5 L347.21 822.99 L347.71 822.62 L348.21 822.37 L348.71 822.2 L349.21 822.14 L349.71 822.33 L350.21 822.85 L350.71 823.78 L351.21 825.15 L351.71 826.9 L352.21 828.94 L352.71 831.06 L353.21 833.21 L353.71 835.42 L354.21 837.68 L354.71 840.01 L355.21 842.37 L355.71 844.72 L356.21 847.03 L356.71 849.25 L357.21 851.34 L357.71 853.3 L358.21 855.1 L358.71 856.68 L359.21 857.99 L359.71 859.09 L360.21 860.03 L360.71 860.88 L361.21 861.68 L361.71 862.4 L362.21 862.97 L362.71 863.37 L363.21 863.68 L363.71 863.97 L364.21 864.23 L364.71 864.45 L365.21 864.63 L365.71 864.78 L366.21 864.9 L366.71 865.01 L367.21 865.13 L367.71 865.25 L368.21 865.39 L368.71 865.56 L369.21 865.75 L369.71 865.95 L370.21 866.16 L370.71 866.38 L371.21 866.6 L371.71 866.86 L372.21 867.2 L372.71 867.6 L373.21 868.07 L373.71 868.62 L374.21 869.43 L374.71 870.57 L375.21 872.03 L375.71 873.76 L376.21 875.67 L376.71 877.63 L377.21 879.65 L377.71 881.72 L378.21 883.84 L378.71 886.04 L379.21 888.25 L379.71 890.41 L380.21 892.45 L380.71 894.29 L381.21 895.96 L381.71 897.49 L382.21 898.94 L382.71 900.32 L383.21 901.58 L383.71 902.69 L384.21 903.59 L384.71 904.33 L385.21 905.02 L385.71 905.67 L386.21 906.26 L386.71 906.81 L387.21 907.31 L387.71 907.8 L388.21 908.28 L388.71 908.76 L389.21 909.22 L389.71 909.67 L390.21 910.1 L390.71 910.52 L391.21 910.92 L391.71 911.32 L392.21 911.69 L392.71 912.04 L393.21 912.36 L393.71 912.64 L394.21 912.87 L394.71 913.07 L395.21 913.23 L395.71 913.38 L396.21 913.5 L396.71 913.6 L397.21 913.69 L397.71 913.76 L398.21 913.82 L398.71 913.88 L399.21 913.93 L399.71 913.98 L400.21 914.02 L400.71 914.05 L401.21 914.05 L401.71 914.05 L402.21 914.05 L402.71 914.05 L403.21 914.05" fill="none" stroke="#000000" stroke-width="2.05" stroke-linejoin="round" stroke-linecap="round"/>
<path clip-path="url(#c31)" d="M300.25 914.05 L300.75 914.05 L301.25 914.05 L301.75 914.05 L302.25 914.05 L302.75 913.93 L303.25 913.78 L303.75 913.6 L304.25 913.39 L304.75 913.16 L305.25 912.87 L305.75 912.53 L306.25 912.12 L306.75 911.64 L307.25 911.08 L307.75 910.43 L308.25 909.7 L308.75 908.83 L309.25 907.82 L309.75 906.68 L310.25 905.41 L310.75 904.01 L311.25 902.51 L311.75 900.97 L312.25 899.39 L312.75 897.74 L313.25 896.05 L313.75 894.28 L314.25 892.44 L314.75 890.55 L315.25 888.63 L315.75 886.72 L316.25 884.86 L316.75 883.07 L317.25 881.35 L317.75 879.67 L318.25 878.05 L318.75 876.48 L319.25 874.97 L319.75 873.52 L320.25 872.16 L320.75 870.87 L321.25 869.66 L321.75 868.52 L322.25 867.43 L322.75 866.39 L323.25 865.41 L323.75 864.5 L324.25 863.67 L324.75 862.94 L325.25 862.31 L325.75 861.72 L326.25 861.17 L326.75 860.64 L327.25 860.15 L327.75 859.7 L328.25 859.28 L328.75 858.9 L329.25 858.54 L329.75 858.18 L330.25 857.82 L330.75 857.48 L331.25 857.15 L331.75 856.84 L332.25 856.55 L332.75 856.26 L333.25 855.99 L333.75 855.72 L334.25 855.47 L334.75 855.22 L335.25 854.97 L335.75 854.74 L336.25 854.52 L336.75 854.33 L337.25 854.16 L337.75 854.01 L338.25 853.86 L338.75 853.73 L339.25 853.67 L339.75 853.67 L340.25 853.73 L340.75 853.82 L341.25 854.02 L341.75 854.37 L342.25 854.86 L342.75 855.5 L343.25 856.27 L343.75 857.18 L344.25 858.23 L344.75 859.43 L345.25 860.74 L345.75 862.08 L346.25 863.44 L346.75 864.82 L347.25 866.23 L347.75 867.67 L348.25 869.15 L348.75 870.66 L349.25 872.18 L349.75 873.7 L350.25 875.2 L350.75 876.65 L351.25 878.02 L351.75 879.33 L352.25 880.56 L352.75 881.73 L353.25 882.85 L353.75 883.9 L354.25 884.84 L354.75 885.66 L355.25 886.35 L355.75 886.94 L356.25 887.4 L356.75 887.78 L357.25 888.1 L357.75 888.37 L358.25 888.57 L358.75 888.72 L359.25 888.81 L359.75 888.88 L360.25 888.9 L360.75 888.87 L361.25 888.74 L361.75 888.56 L362.25 888.35 L362.75 888.1 L363.25 887.82 L363.75 887.51 L364.25 887.18 L364.75 886.82 L365.25 886.45 L365.75 886.06 L366.25 885.64 L366.75 885.22 L367.25 884.78 L367.75 884.33 L368.25 883.88 L368.75 883.41 L369.25 882.89 L369.75 882.32 L370.25 881.64 L370.75 880.86 L371.25 879.93 L371.75 878.95 L372.25 877.95 L372.75 876.94 L373.25 875.92 L373.75 874.92 L374.25 873.93 L374.75 872.94 L375.25 871.96 L375.75 870.99 L376.25 870.03 L376.75 869.17 L377.25 868.6 L377.75 868.26 L378.25 868.03 L378.75 867.84 L379.25 867.76 L379.75 867.82 L380.25 868 L380.75 868.29 L381.25 868.7 L381.75 869.21 L382.25 869.82 L382.75 870.55 L383.25 871.44 L383.75 872.55 L384.25 873.92 L384.75 875.46 L385.25 877.03 L385.75 878.65 L386.25 880.3 L386.75 881.98 L387.25 883.71 L387.75 885.45 L388.25 887.21 L388.75 888.97 L389.25 890.73 L389.75 892.47 L390.25 894.19 L390.75 895.87 L391.25 897.52 L391.75 899.13 L392.25 900.71 L392.75 902.25 L393.25 903.68 L393.75 904.95 L394.25 906.09 L394.75 907.11 L395.25 908.03 L395.75 908.9 L396.25 909.71 L396.75 910.45 L397.25 911.09 L397.75 911.63 L398.25 912.04 L398.75 912.34 L399.25 912.61 L399.75 912.86 L400.25 913.08 L400.75 913.27 L401.25 913.42 L401.75 913.53 L402.25 913.6 L402.75 913.67 L403.25 913.74 L403.75 913.81 L404.25 913.87 L404.75 913.93 L405.25 913.97 L405.75 914 L406.25 914.03 L406.75 914.05 L407.25 914.05 L407.75 914.05 L408.25 914.05" fill="none" stroke="#0000ff" stroke-width="2.05" stroke-linejoin="round" stroke-linecap="round"/>
<rect x="288.9" y="783.95" width="151.5" height="135.1" fill="none" stroke="#000" stroke-width="1"/>
<path d="M294.51 919.05H434.79M294.51 919.05v6.3M317.89 919.05v6.3M341.27 919.05v6.3M364.65 919.05v6.3M388.03 919.05v6.3M411.41 919.05v6.3M434.79 919.05v6.3M288.9 914.05V809.8M288.9 914.05h-6.3M288.9 879.3h-6.3M288.9 844.55h-6.3M288.9 809.8h-6.3" fill="none" stroke="#000" stroke-width="1"/>
<text x="294.51" y="939.25" text-anchor="middle">11.5</text>
<text x="341.27" y="939.25" text-anchor="middle">12.5</text>
<text x="388.03" y="939.25" text-anchor="middle">13.5</text>
<text x="434.79" y="939.25" text-anchor="middle">14.5</text>
<text transform="translate(274.9 914.05) rotate(-90)" text-anchor="middle">0.0</text>
<text transform="translate(274.9 879.3) rotate(-90)" text-anchor="middle">0.5</text>
<text transform="translate(274.9 844.55) rotate(-90)" text-anchor="middle">1.0</text>
<text transform="translate(274.9 809.8) rotate(-90)" text-anchor="middle">1.5</text>
<text x="364.65" y="961.45" text-anchor="middle">K</text>
<text transform="translate(252.7 851.5) rotate(-90)" text-anchor="middle">Density</text>
<rect x="288.9" y="783.95" width="73" height="22.5" fill="#fff" stroke="#000" stroke-width="1"/>
<text x="306" y="798.45">l(0<tspan dy="-4.3" dx="0.5" font-size="5.2px">o</tspan><tspan dy="4.3" dx="0.5">)/b(−10</tspan><tspan dy="-4.3" dx="0.5" font-size="5.2px">o</tspan><tspan dy="4.3" dx="0.5">)</tspan></text>
<text x="436" y="798.25" text-anchor="end">Disk<tspan dx="0.9" font-size="6.4px" stroke="#000" stroke-width="0.3">+</tspan><tspan dx="0.9">bulge</tspan></text>
</g>
<g>
<clipPath id="c32"><rect x="510.2" y="783.95" width="151.5" height="135.1"/></clipPath>
<line x1="510.2" y1="914.05" x2="661.7" y2="914.05" stroke="#d3d3d3" stroke-width="0.4"/>
<path clip-path="url(#c32)" d="M509.25 914.05 L509.75 914.05 L510.25 914.05 L510.75 914.05 L511.25 914.05 L511.75 914.05 L512.25 914.05 L512.75 914.05 L513.25 914.05 L513.75 914.05 L514.25 914.05 L514.75 914.05 L515.25 914.05 L515.75 914.05 L516.25 914.05 L516.75 914.05 L517.25 914.05 L517.75 914.05 L518.25 914.05 L518.75 914.05 L519.25 914.05 L519.75 914.05 L520.25 914.05 L520.75 914.05 L521.25 914.05 L521.75 914.05 L522.25 914.05 L522.75 914.05 L523.25 914.05 L523.75 914.05 L524.25 914.05 L524.75 914.05 L525.25 914.05 L525.75 914.05 L526.25 914.05 L526.75 914.05 L527.25 914.05 L527.75 914.05 L528.25 914.05 L528.75 914.05 L529.25 914.05 L529.75 914.05 L530.25 914.05 L530.75 914.05 L531.25 914.05 L531.75 914.05 L532.25 914.05 L532.75 914.05 L533.25 914.03 L533.75 914 L534.25 913.96 L534.75 913.93 L535.25 913.9 L535.75 913.87 L536.25 913.84 L536.75 913.79 L537.25 913.74 L537.75 913.66 L538.25 913.57 L538.75 913.47 L539.25 913.36 L539.75 913.24 L540.25 913.1 L540.75 912.96 L541.25 912.81 L541.75 912.61 L542.25 912.34 L542.75 912.01 L543.25 911.64 L543.75 911.24 L544.25 910.81 L544.75 910.36 L545.25 909.84 L545.75 909.23 L546.25 908.53 L546.75 907.75 L547.25 906.91 L547.75 906 L548.25 904.97 L548.75 903.81 L549.25 902.54 L549.75 901.14 L550.25 899.64 L550.75 898.04 L551.25 896.35 L551.75 894.56 L552.25 892.65 L552.75 890.59 L553.25 888.36 L553.75 886.05 L554.25 883.71 L554.75 881.35 L555.25 878.95 L555.75 876.51 L556.25 874.04 L556.75 871.54 L557.25 869.03 L557.75 866.52 L558.25 864.01 L558.75 861.52 L559.25 859.06 L559.75 856.64 L560.25 854.25 L560.75 851.9 L561.25 849.57 L561.75 847.28 L562.25 845.12 L562.75 843.12 L563.25 841.26 L563.75 839.52 L564.25 837.85 L564.75 836.26 L565.25 834.83 L565.75 833.55 L566.25 832.42 L566.75 831.44 L567.25 830.64 L567.75 830.02 L568.25 829.61 L568.75 829.39 L569.25 829.36 L569.75 829.5 L570.25 829.8 L570.75 830.24 L571.25 830.87 L571.75 831.74 L572.25 832.76 L572.75 833.88 L573.25 835.13 L573.75 836.52 L574.25 837.97 L574.75 839.46 L575.25 840.97 L575.75 842.51 L576.25 844.1 L576.75 845.73 L577.25 847.38 L577.75 849.03 L578.25 850.65 L578.75 852.24 L579.25 853.77 L579.75 855.23 L580.25 856.61 L580.75 857.93 L581.25 859.17 L581.75 860.33 L582.25 861.38 L582.75 862.32 L583.25 863.17 L583.75 863.92 L584.25 864.6 L584.75 865.23 L585.25 865.82 L585.75 866.36 L586.25 866.84 L586.75 867.25 L587.25 867.59 L587.75 867.88 L588.25 868.15 L588.75 868.37 L589.25 868.54 L589.75 868.64 L590.25 868.67 L590.75 868.68 L591.25 868.68 L591.75 868.68 L592.25 868.68 L592.75 868.67 L593.25 868.66 L593.75 868.65 L594.25 868.62 L594.75 868.59 L595.25 868.56 L595.75 868.53 L596.25 868.52 L596.75 868.61 L597.25 868.84 L597.75 869.18 L598.25 869.62 L598.75 870.18 L599.25 870.92 L599.75 871.82 L600.25 872.84 L600.75 873.94 L601.25 875.08 L601.75 876.36 L602.25 877.87 L602.75 879.64 L603.25 881.48 L603.75 883.31 L604.25 885.14 L604.75 886.98 L605.25 888.81 L605.75 890.64 L606.25 892.48 L606.75 894.31 L607.25 896.05 L607.75 897.6 L608.25 899.03 L608.75 900.39 L609.25 901.7 L609.75 902.94 L610.25 904.1 L610.75 905.19 L611.25 906.19 L611.75 907.12 L612.25 907.97 L612.75 908.74 L613.25 909.43 L613.75 910.06 L614.25 910.64 L614.75 911.16 L615.25 911.62 L615.75 911.99 L616.25 912.29 L616.75 912.56 L617.25 912.81 L617.75 913.03 L618.25 913.23 L618.75 913.39 L619.25 913.51 L619.75 913.6 L620.25 913.67 L620.75 913.75 L621.25 913.82 L621.75 913.89 L622.25 913.95 L622.75 914.01 L623.25 914.05 L623.75 914.05 L624.25 914.05 L624.75 914.05 L625.25 914.05 L625.75 914.05 L626.25 914.05 L626.75 914.05 L627.25 914.05 L627.75 914.05 L628.25 914.05 L628.75 914.05 L629.25 914.05 L629.75 914.05 L630.25 914.05 L630.75 914.05 L631.25 914.05 L631.75 914.05 L632.25 914.05 L632.75 914.05 L633.25 914.05 L633.75 914.05 L634.25 914.05 L634.75 914.05 L635.25 914.05 L635.75 914.05 L636.25 914.05 L636.75 914.05 L637.25 914.05 L637.75 914.05 L638.25 914.05 L638.75 914.05 L639.25 914.05 L639.75 914.05 L640.25 914.05 L640.75 914.05 L641.25 914.05 L641.75 914.05 L642.25 914.05 L642.75 914.05 L643.25 914.05 L643.75 914.05 L644.25 914.05 L644.75 914.05 L645.25 914.05 L645.75 914.05 L646.25 914.05 L646.75 914.05 L647.25 914.05 L647.75 914.05 L648.25 914.05 L648.75 914.05 L649.25 914.05 L649.75 914.05 L650.25 914.05 L650.75 914.05 L651.25 914.05 L651.75 914.05 L652.25 914.05 L652.75 914.05 L653.25 914.05 L653.75 914.05 L654.25 914.05 L654.75 914.05 L655.25 914.05 L655.75 914.05 L656.25 914.05 L656.75 914.05 L657.25 914.05 L657.75 914.05 L658.25 914.05 L658.75 914.05 L659.25 914.05 L659.75 914.05 L660.25 914.05 L660.75 914.05 L661.25 914.05 L661.75 914.05 L662.25 914.05" fill="none" stroke="#ff0000" stroke-width="2.05" stroke-linejoin="round" stroke-linecap="round"/>
<path clip-path="url(#c32)" d="M509.25 914.05 L509.75 914.05 L510.25 914.05 L510.75 914.05 L511.25 914.05 L511.75 914.05 L512.25 914.05 L512.75 914.05 L513.25 914.05 L513.75 914.05 L514.25 914.05 L514.75 914.05 L515.25 914.05 L515.75 914.05 L516.25 914.05 L516.75 914.05 L517.25 914.05 L517.75 914.05 L518.25 914.05 L518.75 914.05 L519.25 914.05 L519.75 914.05 L520.25 914.05 L520.75 914.05 L521.25 914.05 L521.75 914.05 L522.25 914.05 L522.75 914.05 L523.25 914.05 L523.75 914.05 L524.25 914.05 L524.75 914.05 L525.25 914.05 L525.75 914.05 L526.25 914.05 L526.75 914.05 L527.25 914.05 L527.75 914.05 L528.25 914.05 L528.75 914.05 L529.25 914.05 L529.75 914.05 L530.25 914.05 L530.75 914.05 L531.25 914.05 L531.75 914.05 L532.25 914.05 L532.75 914.05 L533.25 914.05 L533.75 914.05 L534.25 914.05 L534.75 914.04 L535.25 914 L535.75 913.95 L536.25 913.9 L536.75 913.86 L537.25 913.8 L537.75 913.73 L538.25 913.64 L538.75 913.53 L539.25 913.4 L539.75 913.26 L540.25 913.11 L540.75 912.95 L541.25 912.78 L541.75 912.6 L542.25 912.39 L542.75 912.14 L543.25 911.83 L543.75 911.47 L544.25 911.07 L544.75 910.62 L545.25 910.14 L545.75 909.6 L546.25 908.96 L546.75 908.24 L547.25 907.44 L547.75 906.58 L548.25 905.68 L548.75 904.74 L549.25 903.73 L549.75 902.65 L550.25 901.47 L550.75 900.19 L551.25 898.78 L551.75 897.29 L552.25 895.72 L552.75 894.09 L553.25 892.39 L553.75 890.62 L554.25 888.78 L554.75 886.91 L555.25 885.01 L555.75 883.12 L556.25 881.24 L556.75 879.38 L557.25 877.57 L557.75 875.77 L558.25 874.01 L558.75 872.28 L559.25 870.59 L559.75 868.95 L560.25 867.47 L560.75 866.14 L561.25 864.93 L561.75 863.83 L562.25 862.8 L562.75 861.83 L563.25 860.93 L563.75 860.11 L564.25 859.39 L564.75 858.77 L565.25 858.28 L565.75 857.86 L566.25 857.5 L566.75 857.19 L567.25 856.92 L567.75 856.72 L568.25 856.56 L568.75 856.43 L569.25 856.35 L569.75 856.32 L570.25 856.35 L570.75 856.41 L571.25 856.53 L571.75 856.77 L572.25 857.16 L572.75 857.66 L573.25 858.16 L573.75 858.66 L574.25 859.16 L574.75 859.66 L575.25 860.16 L575.75 860.66 L576.25 861.16 L576.75 861.66 L577.25 862.16 L577.75 862.66 L578.25 863.14 L578.75 863.53 L579.25 863.85 L579.75 864.11 L580.25 864.33 L580.75 864.54 L581.25 864.71 L581.75 864.78 L582.25 864.79 L582.75 864.73 L583.25 864.6 L583.75 864.39 L584.25 864.07 L584.75 863.61 L585.25 862.99 L585.75 862.31 L586.25 861.59 L586.75 860.83 L587.25 860.04 L587.75 859.22 L588.25 858.36 L588.75 857.48 L589.25 856.59 L589.75 855.71 L590.25 854.83 L590.75 853.98 L591.25 853.16 L591.75 852.37 L592.25 851.61 L592.75 850.89 L593.25 850.19 L593.75 849.54 L594.25 848.97 L594.75 848.49 L595.25 848.08 L595.75 847.7 L596.25 847.35 L596.75 847.04 L597.25 846.83 L597.75 846.73 L598.25 846.7 L598.75 846.82 L599.25 847.17 L599.75 847.77 L600.25 848.64 L600.75 849.73 L601.25 851 L601.75 852.42 L602.25 853.94 L602.75 855.47 L603.25 857.06 L603.75 858.72 L604.25 860.5 L604.75 862.35 L605.25 864.23 L605.75 866.15 L606.25 868.09 L606.75 870.08 L607.25 872.08 L607.75 874.09 L608.25 876.13 L608.75 878.19 L609.25 880.3 L609.75 882.47 L610.25 884.67 L610.75 886.85 L611.25 888.97 L611.75 891.03 L612.25 893.03 L612.75 894.99 L613.25 896.91 L613.75 898.74 L614.25 900.45 L614.75 902.05 L615.25 903.55 L615.75 904.92 L616.25 906.16 L616.75 907.27 L617.25 908.3 L617.75 909.25 L618.25 910.13 L618.75 910.91 L619.25 911.56 L619.75 912.06 L620.25 912.48 L620.75 912.85 L621.25 913.15 L621.75 913.38 L622.25 913.54 L622.75 913.63 L623.25 913.73 L623.75 913.81 L624.25 913.89 L624.75 913.97 L625.25 914.03 L625.75 914.05 L626.25 914.05 L626.75 914.05 L627.25 914.05 L627.75 914.05 L628.25 914.05 L628.75 914.05 L629.25 914.05 L629.75 914.05 L630.25 914.05 L630.75 914.05 L631.25 914.05 L631.75 914.05 L632.25 914.05 L632.75 914.05 L633.25 914.05 L633.75 914.05 L634.25 914.05 L634.75 914.05 L635.25 914.05 L635.75 914.05 L636.25 914.05 L636.75 914.05 L637.25 914.05 L637.75 914.05 L638.25 914.05 L638.75 914.05 L639.25 914.05 L639.75 914.05 L640.25 914.05 L640.75 914.05 L641.25 914.05 L641.75 914.05 L642.25 914.05 L642.75 914.05 L643.25 914.05 L643.75 914.05 L644.25 914.05 L644.75 914.05 L645.25 914.05 L645.75 914.05 L646.25 914.05 L646.75 914.05 L647.25 914.05 L647.75 914.05 L648.25 914.05 L648.75 914.05 L649.25 914.05 L649.75 914.05 L650.25 914.05 L650.75 914.05 L651.25 914.05 L651.75 914.05 L652.25 914.05 L652.75 914.05 L653.25 914.05 L653.75 914.05 L654.25 914.05 L654.75 914.05 L655.25 914.05 L655.75 914.05 L656.25 914.05 L656.75 914.05 L657.25 914.05 L657.75 914.05 L658.25 914.05 L658.75 914.05 L659.25 914.05 L659.75 914.05 L660.25 914.05 L660.75 914.05 L661.25 914.05 L661.75 914.05 L662.25 914.05" fill="none" stroke="#000000" stroke-width="2.05" stroke-linejoin="round" stroke-linecap="round"/>
<path clip-path="url(#c32)" d="M509.25 914.05 L509.75 914.05 L510.25 914.05 L510.75 914.05 L511.25 914.05 L511.75 914.05 L512.25 914.05 L512.75 914.05 L513.25 914.05 L513.75 914.05 L514.25 914.05 L514.75 914.05 L515.25 914.05 L515.75 914.05 L516.25 914.05 L516.75 914.05 L517.25 914.05 L517.75 914.05 L518.25 914.05 L518.75 914.05 L519.25 914.05 L519.75 914.05 L520.25 914.05 L520.75 914.05 L521.25 914.05 L521.75 914.05 L522.25 914.05 L522.75 914.05 L523.25 914.05 L523.75 914.05 L524.25 914.05 L524.75 914.05 L525.25 914.05 L525.75 914.05 L526.25 914.05 L526.75 914.05 L527.25 914.05 L527.75 914.05 L528.25 914.05 L528.75 914.05 L529.25 914.05 L529.75 914.05 L530.25 914.05 L530.75 914.05 L531.25 914.05 L531.75 914.05 L532.25 914.05 L532.75 914.05 L533.25 914.05 L533.75 914.05 L534.25 914.05 L534.75 914.05 L535.25 914.05 L535.75 914.05 L536.25 914.03 L536.75 914 L537.25 913.97 L537.75 913.93 L538.25 913.9 L538.75 913.86 L539.25 913.82 L539.75 913.77 L540.25 913.71 L540.75 913.63 L541.25 913.53 L541.75 913.43 L542.25 913.31 L542.75 913.19 L543.25 913.05 L543.75 912.91 L544.25 912.76 L544.75 912.55 L545.25 912.3 L545.75 912.01 L546.25 911.69 L546.75 911.32 L547.25 910.93 L547.75 910.5 L548.25 910.03 L548.75 909.49 L549.25 908.91 L549.75 908.28 L550.25 907.61 L550.75 906.9 L551.25 906.15 L551.75 905.37 L552.25 904.55 L552.75 903.68 L553.25 902.77 L553.75 901.81 L554.25 900.8 L554.75 899.73 L555.25 898.62 L555.75 897.49 L556.25 896.32 L556.75 895.12 L557.25 893.87 L557.75 892.58 L558.25 891.25 L558.75 889.87 L559.25 888.46 L559.75 887.04 L560.25 885.62 L560.75 884.2 L561.25 882.81 L561.75 881.44 L562.25 880.1 L562.75 878.78 L563.25 877.46 L563.75 876.17 L564.25 874.88 L564.75 873.61 L565.25 872.36 L565.75 871.13 L566.25 869.93 L566.75 868.77 L567.25 867.66 L567.75 866.61 L568.25 865.61 L568.75 864.68 L569.25 863.79 L569.75 862.94 L570.25 862.11 L570.75 861.32 L571.25 860.54 L571.75 859.8 L572.25 859.07 L572.75 858.36 L573.25 857.65 L573.75 856.94 L574.25 856.23 L574.75 855.53 L575.25 854.84 L575.75 854.17 L576.25 853.5 L576.75 852.84 L577.25 852.17 L577.75 851.51 L578.25 850.85 L578.75 850.2 L579.25 849.54 L579.75 848.9 L580.25 848.25 L580.75 847.61 L581.25 846.97 L581.75 846.33 L582.25 845.7 L582.75 845.06 L583.25 844.43 L583.75 843.81 L584.25 843.2 L584.75 842.6 L585.25 842.01 L585.75 841.42 L586.25 840.84 L586.75 840.27 L587.25 839.73 L587.75 839.23 L588.25 838.76 L588.75 838.32 L589.25 837.91 L589.75 837.53 L590.25 837.18 L590.75 836.88 L591.25 836.62 L591.75 836.38 L592.25 836.17 L592.75 835.97 L593.25 835.79 L593.75 835.69 L594.25 835.66 L594.75 835.79 L595.25 836.06 L595.75 836.43 L596.25 836.87 L596.75 837.42 L597.25 838.1 L597.75 838.91 L598.25 839.83 L598.75 840.87 L599.25 842.07 L599.75 843.44 L600.25 845.02 L600.75 846.78 L601.25 848.65 L601.75 850.63 L602.25 852.77 L602.75 855.07 L603.25 857.4 L603.75 859.74 L604.25 862.07 L604.75 864.4 L605.25 866.74 L605.75 869.07 L606.25 871.4 L606.75 873.74 L607.25 876.07 L607.75 878.4 L608.25 880.74 L608.75 883.07 L609.25 885.38 L609.75 887.59 L610.25 889.74 L610.75 891.84 L611.25 893.91 L611.75 895.88 L612.25 897.73 L612.75 899.47 L613.25 901.1 L613.75 902.6 L614.25 903.97 L614.75 905.23 L615.25 906.4 L615.75 907.51 L616.25 908.54 L616.75 909.46 L617.25 910.23 L617.75 910.86 L618.25 911.42 L618.75 911.9 L619.25 912.3 L619.75 912.62 L620.25 912.86 L620.75 913.05 L621.25 913.23 L621.75 913.4 L622.25 913.55 L622.75 913.68 L623.25 913.78 L623.75 913.84 L624.25 913.88 L624.75 913.92 L625.25 913.96 L625.75 913.99 L626.25 914.03 L626.75 914.05 L627.25 914.05 L627.75 914.05 L628.25 914.05 L628.75 914.05 L629.25 914.05 L629.75 914.05 L630.25 914.05 L630.75 914.05 L631.25 914.05 L631.75 914.05 L632.25 914.05 L632.75 914.05 L633.25 914.05 L633.75 914.05 L634.25 914.05 L634.75 914.05 L635.25 914.05 L635.75 914.05 L636.25 914.05 L636.75 914.05 L637.25 914.05 L637.75 914.05 L638.25 914.05 L638.75 914.05 L639.25 914.05 L639.75 914.05 L640.25 914.05 L640.75 914.05 L641.25 914.05 L641.75 914.05 L642.25 914.05 L642.75 914.05 L643.25 914.05 L643.75 914.05 L644.25 914.05 L644.75 914.05 L645.25 914.05 L645.75 914.05 L646.25 914.05 L646.75 914.05 L647.25 914.05 L647.75 914.05 L648.25 914.05 L648.75 914.05 L649.25 914.05 L649.75 914.05 L650.25 914.05 L650.75 914.05 L651.25 914.05 L651.75 914.05 L652.25 914.05 L652.75 914.05 L653.25 914.05 L653.75 914.05 L654.25 914.05 L654.75 914.05 L655.25 914.05 L655.75 914.05 L656.25 914.05 L656.75 914.05 L657.25 914.05 L657.75 914.05 L658.25 914.05 L658.75 914.05 L659.25 914.05 L659.75 914.05 L660.25 914.05 L660.75 914.05 L661.25 914.05 L661.75 914.05 L662.25 914.05" fill="none" stroke="#0000ff" stroke-width="2.05" stroke-linejoin="round" stroke-linecap="round"/>
<rect x="510.2" y="783.95" width="151.5" height="135.1" fill="none" stroke="#000" stroke-width="1"/>
<path d="M515.81 919.05H656.09M515.81 919.05v6.3M539.19 919.05v6.3M562.57 919.05v6.3M585.95 919.05v6.3M609.33 919.05v6.3M632.71 919.05v6.3M656.09 919.05v6.3M510.2 914.05V809.8M510.2 914.05h-6.3M510.2 879.3h-6.3M510.2 844.55h-6.3M510.2 809.8h-6.3" fill="none" stroke="#000" stroke-width="1"/>
<text x="515.81" y="939.25" text-anchor="middle">11.5</text>
<text x="562.57" y="939.25" text-anchor="middle">12.5</text>
<text x="609.33" y="939.25" text-anchor="middle">13.5</text>
<text x="656.09" y="939.25" text-anchor="middle">14.5</text>
<text transform="translate(496.2 914.05) rotate(-90)" text-anchor="middle">0.0</text>
<text transform="translate(496.2 879.3) rotate(-90)" text-anchor="middle">0.5</text>
<text transform="translate(496.2 844.55) rotate(-90)" text-anchor="middle">1.0</text>
<text transform="translate(496.2 809.8) rotate(-90)" text-anchor="middle">1.5</text>
<text x="585.95" y="959.15" text-anchor="middle">K<tspan dy="2.6" font-size="7.2px">0</tspan></text>
<text transform="translate(474 851.5) rotate(-90)" text-anchor="middle">Density</text>
<rect x="510.2" y="783.95" width="72.6" height="22.5" fill="#fff" stroke="#000" stroke-width="1"/>
<text x="527.3" y="798.45">l(0<tspan dy="-4.3" dx="0.5" font-size="5.2px">o</tspan><tspan dy="4.3" dx="0.5">)/b(−10</tspan><tspan dy="-4.3" dx="0.5" font-size="5.2px">o</tspan><tspan dy="4.3" dx="0.5">)</tspan></text>
<text x="657.3" y="798.25" text-anchor="end">ARGOS</text>
</g>
</svg>
</body></html>
